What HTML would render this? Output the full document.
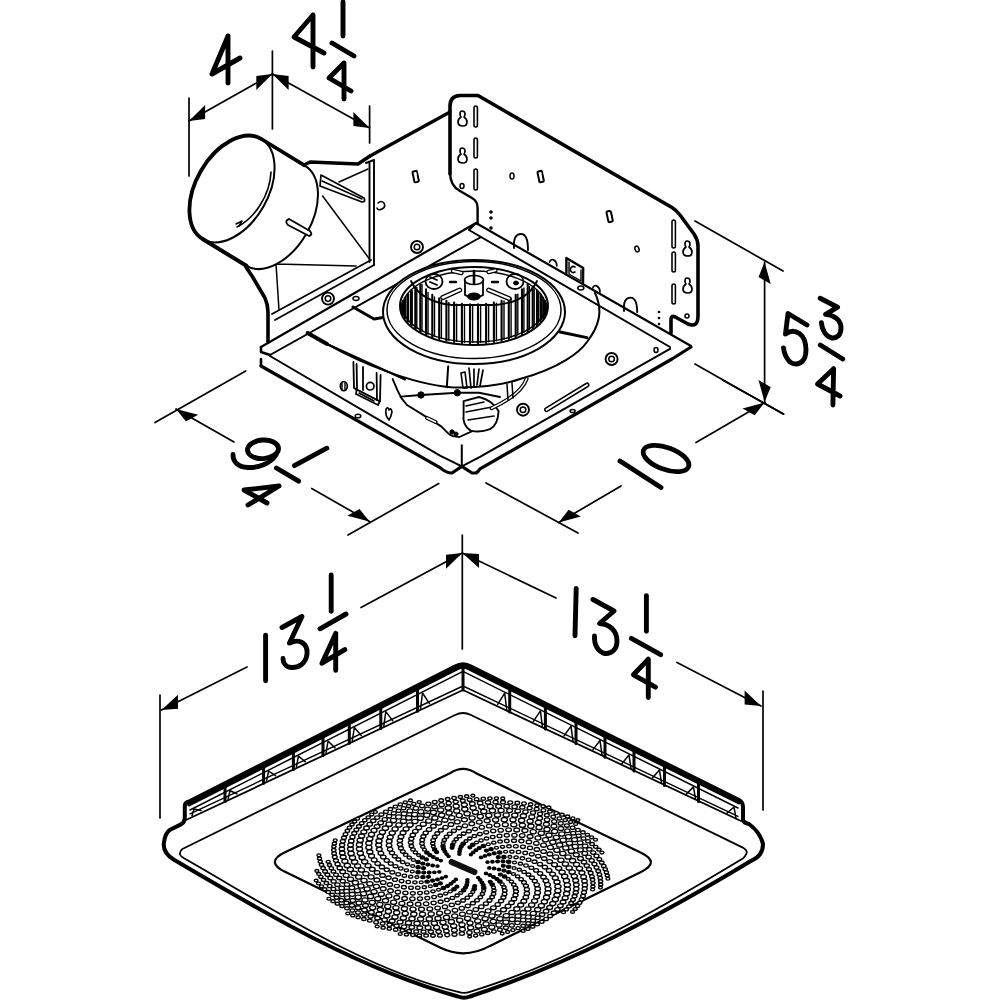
<!DOCTYPE html>
<html><head><meta charset="utf-8"><style>html,body{margin:0;padding:0;background:#fff;overflow:hidden;font-family:"Liberation Sans",sans-serif}svg{display:block}</style></head><body><svg width="1000" height="1001" viewBox="0 0 1000 1001"><g fill="none" stroke="#000" stroke-linecap="round" stroke-linejoin="round"><line x1="189" y1="98" x2="189" y2="176" stroke-width="1.7"/><line x1="272.4" y1="51" x2="272.4" y2="129" stroke-width="1.7"/><line x1="369.6" y1="106" x2="369.6" y2="143" stroke-width="1.7"/><line x1="189" y1="121" x2="272.4" y2="74" stroke-width="1.7"/><path d="M189.0,121.0 L205.1,118.9 L205.1,104.9 Z" fill="#000" stroke="none"/><path d="M272.4,74.0 L256.3,90.1 L256.3,76.1 Z" fill="#000" stroke="none"/><line x1="272.4" y1="74" x2="369.6" y2="128" stroke-width="1.7"/><path d="M369.6,128.0 L353.4,126.0 L353.4,112.0 Z" fill="#000" stroke="none"/><path d="M272.4,74.0 L288.6,90.0 L288.6,76.0 Z" fill="#000" stroke="none"/><line x1="695" y1="221" x2="783" y2="271" stroke-width="1.7"/><line x1="695" y1="364" x2="783" y2="414" stroke-width="1.7"/><line x1="764.6" y1="262" x2="764.6" y2="402" stroke-width="1.7"/><path d="M764.6,262.0 L770.7,284.0 L758.5,277.0 Z" fill="#000" stroke="none"/><path d="M764.6,402.0 L770.7,387.0 L758.5,380.0 Z" fill="#000" stroke="none"/><line x1="155" y1="422.5" x2="245.7" y2="371" stroke-width="1.7"/><line x1="348" y1="535" x2="438.8" y2="483.6" stroke-width="1.7"/><line x1="176" y1="409" x2="234" y2="442" stroke-width="1.7"/><path d="M176.0,409.0 L198.2,414.7 L186.0,421.6 Z" fill="#000" stroke="none"/><line x1="311.7" y1="488.5" x2="369.5" y2="521.5" stroke-width="1.7"/><path d="M369.5,521.5 L359.5,508.9 L347.3,515.8 Z" fill="#000" stroke="none"/><line x1="486" y1="483" x2="578" y2="533" stroke-width="1.7"/><line x1="722.5" y1="380" x2="783.75" y2="414" stroke-width="1.7"/><line x1="558.75" y1="522.5" x2="621" y2="486" stroke-width="1.7"/><path d="M558.8,522.5 L580.8,516.5 L568.6,509.7 Z" fill="#000" stroke="none"/><line x1="696" y1="442.5" x2="765" y2="402.5" stroke-width="1.7"/><path d="M764.6,402.5 L754.7,415.2 L742.5,408.4 Z" fill="#000" stroke="none"/><line x1="160" y1="695" x2="160" y2="818" stroke-width="1.7"/><line x1="462.3" y1="535" x2="462.3" y2="649" stroke-width="1.7"/><line x1="763" y1="691" x2="763" y2="810" stroke-width="1.7"/><line x1="161.5" y1="710" x2="247" y2="667" stroke-width="1.7"/><path d="M161.5,710.0 L178.0,708.7 L178.0,694.7 Z" fill="#000" stroke="none"/><line x1="361" y1="607.6" x2="462.3" y2="553" stroke-width="1.7"/><path d="M462.3,553.0 L446.0,568.8 L446.0,554.8 Z" fill="#000" stroke="none"/><line x1="462.3" y1="553" x2="556" y2="598" stroke-width="1.7"/><path d="M462.3,553.0 L479.0,568.0 L479.0,554.0 Z" fill="#000" stroke="none"/><line x1="677" y1="662.5" x2="761" y2="706" stroke-width="1.7"/><path d="M761.0,706.0 L744.6,704.5 L744.6,690.5 Z" fill="#000" stroke="none"/><path d="M228,36 L212,74 L240,58 M228,36 L228,83" stroke-width="4.9"/><path d="M313,15 L294,37 L324,53 M313,15 L313,67" stroke-width="4.9"/><path d="M343,2 L343,36" stroke-width="4.9"/><path d="M332,43 L354,56" stroke-width="4.9"/><path d="M344,63 L329,78 L351,91 M344,63 L344,99" stroke-width="4.9"/><path d="M807,325 L788,313.5 L785.5,334 C795,327 806,334 806,350 C806,364 796,366 790,362 C786,358 784,352 783.5,348" stroke-width="4.9"/><path d="M820.2,298.2 L837.6,307.2 L825.6,314.4 C834,315 841,320 841,328 C841,335 837,338.5 832,338 C826,337 822,330 821.4,322.8" stroke-width="4.9"/><path d="M820.3,345 L842.7,359" stroke-width="4.9"/><path d="M833.6,368.7 L817.5,384 L840,396 M833.6,368.7 L832.9,405" stroke-width="4.9"/><ellipse cx="263" cy="449.3" rx="15.5" ry="9.3" transform="rotate(-4 263 449.3)" stroke-width="4.9"/><path d="M276,455 C270,464 258,468 248,467.5 C238,467 233,462 233,454.5" stroke-width="4.9"/><path d="M294.4,465.6 L326.8,448.2" stroke-width="4.9"/><path d="M276.4,468 L298.6,481.2" stroke-width="4.9"/><path d="M279,486 L244,490 L267,503 M279,486 L248,505" stroke-width="4.9"/><path d="M620,461 L661,487.5" stroke-width="4.9"/><ellipse cx="666" cy="458.5" rx="24" ry="11" transform="rotate(20 666 458.5)" stroke-width="4.8" fill="none"/><path d="M265.6,635.3 L265.6,680.8" stroke-width="4.9"/><path d="M282,627.5 L302,616.5 L289.5,643 C300,638 308,644 307,654 C306,664 298,668 291,667.5 C286,667 283,663 283,658.5" stroke-width="4.9"/><path d="M331.2,575 L331.2,611.3" stroke-width="4.9"/><path d="M320,628.8 L346,614" stroke-width="4.9"/><path d="M335.7,633.4 L322,663.2 L344.8,649.6 M335.7,633.4 L335.7,670.4" stroke-width="4.9"/><path d="M576.2,588.4 L575,635.8" stroke-width="4.9"/><path d="M593,599.5 L614,611 L599.5,623.5 C610,624 617,631 617,641 C617,650 611,654 605,653.5 C598,652 594,645 594.5,636" stroke-width="4.9"/><path d="M646.4,595.6 L646.4,631.3" stroke-width="4.9"/><path d="M631.4,638.4 L660.6,654.7" stroke-width="4.9"/><path d="M648.3,659.2 L633.4,674.8 L655.5,687.1 M648.3,659.2 L648.3,697.5" stroke-width="4.9"/></g><g fill="none" stroke="#000" stroke-linecap="round" stroke-linejoin="round"><path d="M268,342 L268,307 L370,156 L450,112 L450,97 Q451,95 458,95 L478,95 L672,207 L698,242 L698,318 Q698,326 690,325 L676,317 Q672,314 671,316 L671,333 L691,346 L672,359 L480,469 L472,473 L452,473 L440,467.6 L261,366 L261,347 Z" fill="#fff" stroke="none"/><path d="M370,156 L450,112" stroke-width="3.2"/><path d="M450,174 L450,106 Q450,96 460,95.5 L478,95.5 L672,207.5 Q676,210 680,215 L694,234 Q698,240 698,246 L698,316 Q698,328 688,324 L677,318 Q671,314 671,320 L671,333" stroke-width="3.6"/><path d="M450,172 Q450,186 460,191 L472,198 Q477.6,201 477.6,208 L477.6,224" stroke-width="2.4"/><path d="M462,111 q3,0 3,3 q0,2 -1,3 q3,2 3,5 q0,4 -4,4 q-5,0 -5,-4 q0,-3 3,-5 q-1,-1 -1,-3 q0,-3 2,-3 z" stroke-width="1.7"/><path d="M462,148 q3,0 3,3 q0,2 -1,3 q3,2 3,5 q0,4 -4,4 q-5,0 -5,-4 q0,-3 3,-5 q-1,-1 -1,-3 q0,-3 2,-3 z" stroke-width="1.7"/><rect x="474" y="106" width="3.4" height="21" rx="1.7" stroke-width="1.6"/><rect x="474" y="138" width="3.4" height="20" rx="1.7" stroke-width="1.6"/><rect x="474" y="169" width="3.4" height="21" rx="1.7" stroke-width="1.6"/><ellipse cx="462" cy="186" rx="2" ry="2.5" stroke-width="1.5"/><rect x="413.5" y="171" width="4.5" height="11" rx="1" stroke-width="2" transform="rotate(-12 416 177)"/><path d="M416,173 L416,181" stroke-width="1" stroke="#fff"/><rect x="538.5" y="171" width="4.5" height="11" rx="1" stroke-width="2" transform="rotate(-12 541 177)"/><path d="M541,173 L541,180" stroke-width="0.9" stroke="#fff"/><ellipse cx="512" cy="176" rx="2" ry="3" stroke-width="1.5"/><path d="M378,203 q3,-3 6,0 q2,4 -2,6 q-4,2 -5,-1" stroke-width="1.6"/><circle cx="491" cy="212" r="1.8" fill="#000" stroke="none"/><circle cx="491" cy="218" r="1.8" fill="#000" stroke="none"/><circle cx="491" cy="228" r="1.8" fill="#000" stroke="none"/><rect x="672" y="220" width="3.4" height="28" rx="1.7" stroke-width="1.6"/><rect x="672" y="252" width="3.4" height="20" rx="1.7" stroke-width="1.6"/><rect x="672" y="284" width="3.4" height="20" rx="1.7" stroke-width="1.6"/><path d="M687,241 q3,0 3,3 q0,2 -1,3 q3,2 3,5 q0,4 -4,4 q-5,0 -5,-4 q0,-3 3,-5 q-1,-1 -1,-3 q0,-3 2,-3 z" stroke-width="1.7"/><path d="M687,278 q3,0 3,3 q0,2 -1,3 q3,2 3,5 q0,4 -4,4 q-5,0 -5,-4 q0,-3 3,-5 q-1,-1 -1,-3 q0,-3 2,-3 z" stroke-width="1.7"/><ellipse cx="687" cy="316" rx="2" ry="2" stroke-width="1.5"/><rect x="607.5" y="211" width="4.5" height="11" rx="1.5" stroke-width="2.0" transform="rotate(-12 610 217)"/><ellipse cx="637" cy="249" rx="2" ry="3" stroke-width="1.5" transform="rotate(-20 637 249)"/><circle cx="659" cy="312" r="1.3" fill="#000" stroke="none"/><circle cx="659" cy="318" r="1.3" fill="#000" stroke="none"/><circle cx="659" cy="324" r="1.3" fill="#000" stroke="none"/><path d="M566.4,273 L566.4,258 L583.2,268 L583,283" stroke-width="2.4"/><path d="M569,262 L569,274 L581,281 L581,270" stroke-width="1.4"/><path d="M575,267 A3,3 0 1 0 575,272" stroke-width="1.6"/><path d="M624,311 Q623,297.6 630.5,297.6 Q637,297.6 637.2,312" fill="#fff" stroke-width="1.9"/><path d="M549.6,262 Q551,258.5 554,260 Q557,262 556.8,266" stroke-width="1.7"/><path d="M592.8,288 Q594,284.5 597,286 Q600,288 600,292" stroke-width="1.7"/><ellipse cx="580.8" cy="288" rx="3" ry="2" stroke-width="1.6"/><path d="M514,248 Q513,234 521,234 Q528,234 528,250" fill="#fff" stroke-width="1.9"/></g><g fill="none" stroke="#000" stroke-linecap="round" stroke-linejoin="round"><path d="M308,162 L358,164 L372,158 L374,265 L275,320 L268,342 L268,307 L246,268 L256,268 Z" fill="#fff" stroke="none"/><path d="M303,165.5 L310,162 L358,164 L370,156" stroke-width="3.4"/><path d="M246,267 L252,276 L265,298 Q268,305 268,312 L268,342" stroke-width="3.6"/><path d="M369.5,163 L369.5,262 M374,160 L374,265 M366,163 L374,160" stroke-width="1.9"/><path d="M272,314 L371,260 M275,320 L374,265" stroke-width="1.8"/><path d="M322.6,196 L370.2,260 M276,264 L356,266 M276,264 L279,310 M339,182 L368,169" stroke-width="1.5"/><path d="M321,175 L364,198 Q366,202 362,202 L320,186 Z" fill="#fff" stroke-width="1.7"/><path d="M322,181 L362,199" stroke-width="1.4"/><circle cx="328" cy="298.6" r="6" stroke-width="1.9"/><circle cx="328" cy="298.6" r="2.8" stroke-width="1.5"/><ellipse cx="356" cy="298.6" rx="3" ry="2" stroke-width="1.5"/></g><g fill="none" stroke="#000" stroke-linecap="round" stroke-linejoin="round"><g transform="translate(232,189) rotate(-60)"><ellipse cx="-1.34" cy="50.88" rx="58" ry="36" fill="#fff" stroke="none"/><path d="M58,0 L56.66,50.88 L-59.34,50.88 L-58,0 Z" fill="#fff" stroke="none"/><path d="M56.66,50.88 A58,36 0 0 1 -59.34,50.88" stroke-width="2"/><ellipse cx="0" cy="0" rx="58" ry="36" fill="#fff" stroke="none"/><path d="M58,0 A58,36 0 0 0 -58,0" stroke-width="3.8"/><path d="M-58,0 A58,36 0 0 0 58,0" stroke-width="2"/><path d="M58,0 L56.66,50.88" stroke-width="3.6"/><path d="M-58,0 L-59.34,50.88" stroke-width="4"/></g><path d="M271,172 C270,195 255,218 237,227" stroke-width="1.6"/><path d="M236,224 l6,-3 l-3,5" stroke-width="1.5"/><path d="M289,219 L310,231 Q313,235 309,236 L288,225 Q284,221 289,219 Z" fill="#fff" stroke-width="1.9"/></g><g fill="none" stroke="#000" stroke-linecap="round" stroke-linejoin="round"><path d="M261,347 L476,223 L691,346" stroke-width="2.2"/><path d="M270,355 L481,237 M469,230 L670,347 M469,230 L476,223" stroke-width="2.0"/><path d="M261,347 L261,352 L270,355 M261,359 L261,366" stroke-width="2.6"/><path d="M270,356 L440,455.6 L461.8,466.4 L480,456.8 L670,348.8" stroke-width="2"/><path d="M261,366 L440,467.6 Q446,473 452,473 L461.8,466.4 L472,473 L476,473 Q478,472 480,468.8 L672,359 L691,347" stroke-width="3.2"/><path d="M461.8,445.2 L461.8,466.4" stroke-width="2.0"/><circle cx="417" cy="247" r="6" stroke-width="1.9"/><circle cx="417" cy="247" r="2.8" stroke-width="1.5"/><circle cx="611.6" cy="359" r="6" stroke-width="1.9"/><circle cx="611.6" cy="359" r="2.8" stroke-width="1.5"/><circle cx="523" cy="409.7" r="6" stroke-width="1.9"/><circle cx="523" cy="409.7" r="2.8" stroke-width="1.5"/><path d="M546.6,409.7 L587,385" stroke-width="5" /><path d="M546.6,409.7 L587,385" stroke-width="2" stroke="#fff"/><ellipse cx="656" cy="350" rx="2" ry="2.5" stroke-width="1.5"/><ellipse cx="572.6" cy="411" rx="2.5" ry="1.6" stroke-width="1.5"/><path d="M307.6,333 L327,344" stroke-width="4"/><path d="M327,344 L405,379.5" stroke-width="2.0"/><path d="M353,307 L374,319 L383,317.5" stroke-width="3"/></g><g fill="none" stroke="#000" stroke-linecap="round" stroke-linejoin="round"><path d="M327,344 C360,362 410,384 451,387.2 C475,388 500,386 520,379 C560,368 580,352 587,342 C600,325 603,310 595,293" stroke-width="2"/><path d="M560,332 L587,337.6" stroke-width="3"/><ellipse cx="474" cy="312" rx="91" ry="52" fill="#fff" stroke-width="2"/><ellipse cx="474" cy="310" rx="87" ry="48.5" stroke-width="1.5"/><ellipse cx="474" cy="306" rx="74" ry="39" fill="#fff" stroke-width="2"/><path d="M402.1,303.1 L402.1,312.9" stroke-width="2.1"/><path d="M402.3,303.7 L402.3,312.3" stroke-width="1.4"/><path d="M403.0,300.9 L403.0,315.1" stroke-width="2.1"/><path d="M403.5,301.0 L403.5,315.0" stroke-width="1.4"/><path d="M404.8,297.7 L404.8,318.3" stroke-width="2.1"/><path d="M405.5,297.7 L405.5,318.3" stroke-width="1.4"/><path d="M407.5,294.3 L407.5,321.7" stroke-width="2.1"/><path d="M408.5,294.2 L408.5,321.8" stroke-width="1.4"/><path d="M411.0,290.8 L411.0,325.2" stroke-width="2.1"/><path d="M412.2,290.8 L412.2,325.2" stroke-width="1.4"/><path d="M415.3,287.5 L415.3,328.5" stroke-width="2.1"/><path d="M416.8,287.5 L416.8,328.5" stroke-width="1.4"/><path d="M420.3,284.4 L420.3,331.6" stroke-width="2.1"/><path d="M422.0,284.5 L422.0,331.5" stroke-width="1.4"/><path d="M426.0,289.4 L426.0,334.4" stroke-width="2.1"/><path d="M428.0,292.4 L428.0,334.2" stroke-width="1.4"/><path d="M432.3,294.7 L432.3,336.9" stroke-width="2.1"/><path d="M434.5,296.9 L434.5,336.6" stroke-width="1.4"/><path d="M439.2,298.2 L439.2,339.0" stroke-width="2.1"/><path d="M441.4,300.1 L441.4,338.6" stroke-width="1.4"/><path d="M446.4,300.8 L446.4,340.8" stroke-width="2.1"/><path d="M448.8,302.4 L448.8,340.2" stroke-width="1.4"/><path d="M454.1,302.6 L454.1,342.1" stroke-width="2.1"/><path d="M456.6,304.1 L456.6,341.4" stroke-width="1.4"/><path d="M461.9,303.8 L461.9,343.0" stroke-width="2.1"/><path d="M464.5,305.1 L464.5,342.2" stroke-width="1.4"/><path d="M470.0,304.4 L470.0,343.4" stroke-width="2.1"/><path d="M472.6,305.5 L472.6,342.5" stroke-width="1.4"/><path d="M478.0,304.4 L478.0,343.4" stroke-width="2.1"/><path d="M480.6,305.3 L480.6,342.3" stroke-width="1.4"/><path d="M486.1,303.8 L486.1,343.0" stroke-width="2.1"/><path d="M488.6,304.5 L488.6,341.7" stroke-width="1.4"/><path d="M493.9,302.6 L493.9,342.1" stroke-width="2.1"/><path d="M496.4,303.1 L496.4,340.7" stroke-width="1.4"/><path d="M501.6,300.8 L501.6,340.8" stroke-width="2.1"/><path d="M504.0,301.0 L504.0,339.2" stroke-width="1.4"/><path d="M508.8,298.2 L508.8,339.0" stroke-width="2.1"/><path d="M511.1,298.2 L511.1,337.4" stroke-width="1.4"/><path d="M515.7,294.7 L515.7,336.9" stroke-width="2.1"/><path d="M517.8,294.2 L517.8,335.1" stroke-width="1.4"/><path d="M522.0,289.4 L522.0,334.4" stroke-width="2.1"/><path d="M523.9,287.9 L523.9,332.5" stroke-width="1.4"/><path d="M527.7,284.4 L527.7,331.6" stroke-width="2.1"/><path d="M529.4,286.4 L529.4,329.6" stroke-width="1.4"/><path d="M532.7,287.5 L532.7,328.5" stroke-width="2.1"/><path d="M534.2,289.6 L534.2,326.4" stroke-width="1.4"/><path d="M537.0,290.8 L537.0,325.2" stroke-width="2.1"/><path d="M538.3,293.0 L538.3,323.0" stroke-width="1.4"/><path d="M540.5,294.3 L540.5,321.7" stroke-width="2.1"/><path d="M541.5,296.4 L541.5,319.6" stroke-width="1.4"/><path d="M543.2,297.7 L543.2,318.3" stroke-width="2.1"/><path d="M543.9,299.8 L543.9,316.2" stroke-width="1.4"/><path d="M545.0,300.9 L545.0,315.1" stroke-width="2.1"/><path d="M545.4,302.8 L545.4,313.2" stroke-width="1.4"/><path d="M545.9,303.1 L545.9,312.9" stroke-width="2.1"/><ellipse cx="474" cy="306.5" rx="71" ry="35.5" stroke-width="1.5"/><path d="M411,281 C418,296 432,303 452,305 L496,305 C516,303 530,296 537,281" stroke-width="1.8"/><ellipse cx="434" cy="281.5" rx="8.5" ry="7.5" stroke-width="1.8"/><ellipse cx="515" cy="281.5" rx="8.5" ry="7.5" stroke-width="1.8"/><path d="M430,277 l7,3 M430,282 l7,3" stroke-width="1.9"/><ellipse cx="516" cy="283" rx="2.5" ry="2" fill="#000"/><path d="M465,281 L465,295 Q474,301 483,295 L483,281" fill="#fff" stroke-width="1.8"/><ellipse cx="474" cy="280" rx="9.5" ry="4.5" stroke-width="1.7"/><ellipse cx="474" cy="296.5" rx="6.5" ry="3.5" fill="#000"/><path d="M474,271 L474,283" stroke-width="2.6"/><path d="M456,282 L450,282 M492,282 L498,282" stroke-width="2.4"/><path d="M442.7,297.6 L459.7,290 M488.6,290 L509,298.5" stroke-width="5"/><path d="M442.7,297.6 L459.7,290 M488.6,290 L509,298.5" stroke-width="2.4" stroke="#fff"/><path d="M453,271 L461.4,273 M488.6,272 L495.4,270.4" stroke-width="4.5"/><path d="M453,271 L461.4,273 M488.6,272 L495.4,270.4" stroke-width="2" stroke="#fff"/></g><g fill="none" stroke="#000" stroke-linecap="round" stroke-linejoin="round"><path d="M392.6,379 L397.4,390.2 L401.4,398.2 L407,405 L425.8,416.6 L441.2,426.4 L448.2,433.4 Q452,437 459.4,437 L473.4,430.6" stroke-width="1.9"/><path d="M400.6,396.6 L421,395 L457.3,392.8 L479,392.8 L500,397" stroke-width="1.9"/><circle cx="421" cy="395" r="3.2" fill="#000"/><circle cx="457.3" cy="392.8" r="3.2" fill="#000"/><path d="M427,418 L435.6,422" stroke-width="4"/><path d="M427,418 L435.6,422" stroke-width="1.5" stroke="#fff"/><circle cx="452" cy="432" r="2.2" fill="#000"/><circle cx="456" cy="434" r="2" fill="#000"/><path d="M463.6,401.2 L479,397 Q492,400 498.6,411 Q498,425 490,429.2 Q480,433 470.6,430.6 Q462,425 463.6,413.8 Z" fill="#fff" stroke-width="1.9"/><path d="M466,406 L484,402 M466,412 L492,407 M468,420 L494,416" stroke-width="1.6"/><path d="M491.6,408.2 C505,402 522,392 526.6,378.8" stroke-width="4"/><path d="M491.6,408.2 C505,402 522,392 526.6,378.8" stroke-width="1.5" stroke="#fff"/><path d="M448.2,366.2 L446.8,387.2" stroke-width="2.0"/><path d="M461,373 L463,388 L467,388 L465,372 Z" stroke-width="1.6"/><path d="M469,368 L471,388 M474,369 L474,387 M479,369 L477,385 M483,370 L480,386" stroke-width="1.7"/><path d="M507,384 L508,400 M512,383 L513,398" stroke-width="1.5"/><path d="M353.4,362 L354,388 L356.6,389.4 M356.6,364 L357,389 M363,367 L363,390 M376.6,373 L377,400 M380.6,375 L380,401" stroke-width="1.8"/><path d="M356.6,389.4 L379.8,401.4 L378,405 L356,394 Z" stroke-width="1.8"/><path d="M359,393 L374,401" stroke-width="1.5"/><circle cx="370.2" cy="386.2" r="3.8" stroke-width="1.7"/><ellipse cx="343.8" cy="386.2" rx="3.5" ry="4.5" stroke-width="1.7"/><path d="M342,383 L342,390 M345,383 L345,390" stroke-width="1.4"/><path d="M386,409 q2,-3 3,1 q2,-3 3,2 q-1,5 -3,8 q-4,-4 -3,-11" stroke-width="1.6"/><ellipse cx="358" cy="416" rx="2.8" ry="1.8" stroke-width="1.5"/></g><g fill="none" stroke="#000" stroke-linecap="round" stroke-linejoin="round"><path d="M455,666.5 Q463,662 471,666.5 L739,800 Q743,802 743,807 L743,820 Q744,823 749,824 Q760,832 763,844 Q763,856 751.2,860.8 C662,914.8 569.5,964 470,996.5 Q464,999 458,996.5 C357.9,968.8 262.8,912 174,859.8 Q163,853 163.8,843.6 Q165,833 170,829.8 L181,824.4 Q184.8,822 184.8,818 L184.8,806 Q185,802 189,801.5 Z" fill="#fff" stroke-width="4"/><path d="M182.4,849 L455,715 Q463,711 471,715 L742.8,847.6 Q748,851 746.4,853.6 Q745,857 742.8,858.4 C656.7,910.5 566.9,962.6 470,991.8 Q464,994 458,991.8 C366.3,970.8 265.3,904.5 183.6,858 Q179,855 180,853.2 Q180.5,850 182.4,849 Z" stroke-width="1.8"/><path d="M189,804.8 L458,668.3 Q463,666 468,668.3 L739,802.8" stroke-width="3.4"/><path d="M186,820 L463,690 L741,821" stroke-width="1.8"/><path d="M190,810.0 L463,671.4 L738,808.0" stroke-width="1.5"/><path d="M190,813.8 L463,686.0 L738,816.4" stroke-width="1.4"/><path d="M417.5,689.5 L417.5,711.3" stroke-width="3"/><path d="M380.8,708.2 L380.8,728.5" stroke-width="3"/><path d="M349.3,724.1 L349.3,743.2" stroke-width="3"/><path d="M323.0,737.5 L323.0,755.5" stroke-width="3"/><path d="M293.4,752.5 L293.4,769.4" stroke-width="3"/><path d="M263.6,767.6 L263.6,783.3" stroke-width="3"/><path d="M225.0,787.2 L225.0,801.4" stroke-width="3"/><path d="M463.0,666.4 L463.0,690.0" stroke-width="3"/><path d="M509.7,689.7 L509.7,712.1" stroke-width="3"/><path d="M545.4,707.4 L545.4,729.1" stroke-width="3"/><path d="M576.0,722.6 L576.0,743.6" stroke-width="3"/><path d="M605.0,737.0 L605.0,757.3" stroke-width="3"/><path d="M634.0,751.4 L634.0,771.1" stroke-width="3"/><path d="M664.5,766.5 L664.5,785.5" stroke-width="3"/><path d="M698.5,783.4 L698.5,801.6" stroke-width="3"/><path d="M420.5,708.9 L422.5,693.0 L429.5,703.7" stroke-width="1.5"/><path d="M383.8,726.1 L385.8,711.6 L392.8,720.9" stroke-width="1.5"/><path d="M352.3,740.8 L354.3,727.6 L361.3,735.6" stroke-width="1.5"/><path d="M326.0,753.1 L328.0,741.0 L335.0,747.9" stroke-width="1.5"/><path d="M296.4,767.0 L298.4,756.0 L305.4,761.8" stroke-width="1.5"/><path d="M266.6,780.9 L268.6,771.1 L275.6,775.7" stroke-width="1.5"/><path d="M228.0,799.0 L230.0,790.7 L237.0,793.8" stroke-width="1.5"/><path d="M192.0,815.8 L194.0,809.0 L201.0,810.6" stroke-width="1.5"/><path d="M506.7,709.7 L504.7,693.2 L497.7,704.4" stroke-width="1.5"/><path d="M542.4,726.6 L540.4,710.9 L533.4,721.4" stroke-width="1.5"/><path d="M573.0,741.1 L571.0,726.1 L564.0,735.9" stroke-width="1.5"/><path d="M602.0,754.9 L600.0,740.5 L593.0,749.6" stroke-width="1.5"/><path d="M631.0,768.6 L629.0,754.9 L622.0,763.4" stroke-width="1.5"/><path d="M661.5,783.1 L659.5,770.1 L652.5,777.8" stroke-width="1.5"/><path d="M695.5,799.2 L693.5,786.9 L686.5,793.9" stroke-width="1.5"/><path d="M736.0,818.4 L734.0,807.0 L727.0,813.1" stroke-width="1.5"/><path d="M285,852.2 L450,773.3 Q463,764.5 476,773.2 L641,852.7 Q660.8,862.2 641,871.9 L490,945.9 Q465,959.8 440,947.6 L285,871.8 Q264.7,861.8 285,852.2 Z" stroke-width="2.2"/></g><g fill="#fff" stroke="#000" stroke-width="1.35"><ellipse cx="489.3" cy="867.9" rx="1.59" ry="1.16" fill="#000"/><ellipse cx="494.1" cy="868.5" rx="1.71" ry="1.25" fill="#000"/><ellipse cx="499.0" cy="869.4" rx="1.84" ry="1.35" fill="#000"/><ellipse cx="504.0" cy="870.5" rx="1.98" ry="1.45" fill="#000"/><ellipse cx="508.8" cy="872.1" rx="2.12" ry="1.55" fill="#000"/><ellipse cx="513.4" cy="874.0" rx="2.00" ry="1.39"/><ellipse cx="517.6" cy="876.4" rx="2.12" ry="1.48"/><ellipse cx="521.1" cy="879.2" rx="2.25" ry="1.56"/><ellipse cx="524.0" cy="882.4" rx="2.37" ry="1.65"/><ellipse cx="525.9" cy="885.8" rx="2.48" ry="1.73"/><ellipse cx="526.9" cy="889.5" rx="2.60" ry="1.81"/><ellipse cx="526.9" cy="893.4" rx="2.70" ry="1.88"/><ellipse cx="525.8" cy="897.3" rx="2.81" ry="1.95"/><ellipse cx="523.8" cy="901.2" rx="2.90" ry="2.02"/><ellipse cx="520.7" cy="905.1" rx="3.00" ry="2.09"/><ellipse cx="516.8" cy="908.9" rx="3.09" ry="2.15"/><ellipse cx="511.9" cy="912.5" rx="3.10" ry="2.16"/><ellipse cx="506.3" cy="915.8" rx="3.10" ry="2.16"/><ellipse cx="500.0" cy="918.8" rx="3.10" ry="2.16"/><ellipse cx="493.3" cy="921.6" rx="3.10" ry="2.16"/><ellipse cx="486.1" cy="924.0" rx="3.10" ry="2.16"/><ellipse cx="478.5" cy="926.1" rx="3.10" ry="2.16"/><ellipse cx="470.6" cy="927.8" rx="3.08" ry="2.14"/><ellipse cx="462.4" cy="929.3" rx="2.97" ry="2.06"/><ellipse cx="454.4" cy="930.3" rx="2.86" ry="1.99"/><ellipse cx="446.4" cy="931.1" rx="2.76" ry="1.92"/><ellipse cx="438.6" cy="931.6" rx="2.67" ry="1.85"/><ellipse cx="430.9" cy="931.8" rx="2.58" ry="1.79"/><ellipse cx="423.5" cy="931.8" rx="2.49" ry="1.73"/><ellipse cx="416.2" cy="931.5" rx="2.41" ry="1.68"/><ellipse cx="409.1" cy="931.1" rx="2.34" ry="1.62"/><ellipse cx="402.3" cy="930.4" rx="2.26" ry="1.57"/><ellipse cx="395.7" cy="929.7" rx="2.19" ry="1.53"/><ellipse cx="389.3" cy="928.7" rx="2.13" ry="1.48"/><ellipse cx="383.1" cy="927.7" rx="2.06" ry="1.43"/><ellipse cx="377.2" cy="926.5" rx="2.00" ry="1.39"/><ellipse cx="500.4" cy="874.6" rx="1.95" ry="1.42" fill="#000"/><ellipse cx="504.5" cy="876.5" rx="2.09" ry="1.53" fill="#000"/><ellipse cx="508.2" cy="878.9" rx="1.97" ry="1.37"/><ellipse cx="511.4" cy="881.6" rx="2.10" ry="1.46"/><ellipse cx="513.8" cy="884.6" rx="2.22" ry="1.54"/><ellipse cx="515.4" cy="887.9" rx="2.34" ry="1.63"/><ellipse cx="516.0" cy="891.5" rx="2.46" ry="1.71"/><ellipse cx="515.5" cy="895.2" rx="2.57" ry="1.79"/><ellipse cx="514.0" cy="898.9" rx="2.68" ry="1.86"/><ellipse cx="511.5" cy="902.7" rx="2.78" ry="1.94"/><ellipse cx="508.0" cy="906.3" rx="2.88" ry="2.01"/><ellipse cx="503.5" cy="909.8" rx="2.98" ry="2.07"/><ellipse cx="498.1" cy="913.0" rx="3.07" ry="2.13"/><ellipse cx="491.9" cy="916.1" rx="3.10" ry="2.16"/><ellipse cx="485.1" cy="918.8" rx="3.10" ry="2.16"/><ellipse cx="477.7" cy="921.1" rx="3.10" ry="2.16"/><ellipse cx="470.0" cy="923.1" rx="3.10" ry="2.16"/><ellipse cx="462.0" cy="924.8" rx="3.10" ry="2.16"/><ellipse cx="453.7" cy="926.0" rx="3.10" ry="2.16"/><ellipse cx="445.2" cy="926.9" rx="3.10" ry="2.16"/><ellipse cx="436.6" cy="927.5" rx="3.05" ry="2.12"/><ellipse cx="428.1" cy="927.7" rx="2.94" ry="2.05"/><ellipse cx="419.8" cy="927.7" rx="2.84" ry="1.98"/><ellipse cx="411.8" cy="927.3" rx="2.75" ry="1.91"/><ellipse cx="404.1" cy="926.7" rx="2.65" ry="1.85"/><ellipse cx="396.6" cy="925.8" rx="2.57" ry="1.79"/><ellipse cx="389.5" cy="924.8" rx="2.49" ry="1.73"/><ellipse cx="382.6" cy="923.5" rx="2.41" ry="1.68"/><ellipse cx="376.1" cy="922.2" rx="2.34" ry="1.63"/><ellipse cx="369.8" cy="920.6" rx="2.27" ry="1.58"/><ellipse cx="363.9" cy="919.0" rx="2.20" ry="1.53"/><ellipse cx="358.2" cy="917.2" rx="2.13" ry="1.48"/><ellipse cx="352.8" cy="915.4" rx="2.07" ry="1.44"/><ellipse cx="347.8" cy="913.5" rx="2.01" ry="1.40"/><ellipse cx="486.0" cy="873.4" rx="1.59" ry="1.16" fill="#000"/><ellipse cx="489.8" cy="875.0" rx="1.71" ry="1.25" fill="#000"/><ellipse cx="493.5" cy="876.9" rx="1.84" ry="1.35" fill="#000"/><ellipse cx="496.9" cy="879.0" rx="1.98" ry="1.45" fill="#000"/><ellipse cx="499.9" cy="881.4" rx="2.12" ry="1.55" fill="#000"/><ellipse cx="502.3" cy="884.2" rx="2.00" ry="1.39"/><ellipse cx="504.0" cy="887.2" rx="2.12" ry="1.48"/><ellipse cx="504.8" cy="890.5" rx="2.25" ry="1.56"/><ellipse cx="504.6" cy="894.0" rx="2.37" ry="1.65"/><ellipse cx="503.4" cy="897.5" rx="2.48" ry="1.73"/><ellipse cx="501.1" cy="901.1" rx="2.60" ry="1.81"/><ellipse cx="497.7" cy="904.5" rx="2.70" ry="1.88"/><ellipse cx="493.4" cy="907.8" rx="2.81" ry="1.95"/><ellipse cx="488.1" cy="910.9" rx="2.90" ry="2.02"/><ellipse cx="482.0" cy="913.8" rx="3.00" ry="2.09"/><ellipse cx="475.1" cy="916.3" rx="3.09" ry="2.15"/><ellipse cx="467.6" cy="918.5" rx="3.10" ry="2.16"/><ellipse cx="459.7" cy="920.3" rx="3.10" ry="2.16"/><ellipse cx="451.4" cy="921.7" rx="3.10" ry="2.16"/><ellipse cx="443.0" cy="922.6" rx="3.10" ry="2.16"/><ellipse cx="434.4" cy="923.3" rx="3.10" ry="2.16"/><ellipse cx="425.7" cy="923.5" rx="3.10" ry="2.16"/><ellipse cx="417.1" cy="923.4" rx="3.10" ry="2.16"/><ellipse cx="408.5" cy="922.9" rx="3.04" ry="2.11"/><ellipse cx="400.1" cy="922.1" rx="2.93" ry="2.04"/><ellipse cx="392.2" cy="921.0" rx="2.83" ry="1.97"/><ellipse cx="384.6" cy="919.7" rx="2.74" ry="1.90"/><ellipse cx="377.4" cy="918.2" rx="2.65" ry="1.84"/><ellipse cx="370.5" cy="916.5" rx="2.56" ry="1.78"/><ellipse cx="364.1" cy="914.6" rx="2.48" ry="1.73"/><ellipse cx="358.0" cy="912.6" rx="2.40" ry="1.67"/><ellipse cx="352.3" cy="910.5" rx="2.33" ry="1.62"/><ellipse cx="347.0" cy="908.3" rx="2.26" ry="1.57"/><ellipse cx="342.0" cy="906.0" rx="2.19" ry="1.53"/><ellipse cx="337.3" cy="903.7" rx="2.13" ry="1.48"/><ellipse cx="333.0" cy="901.2" rx="2.07" ry="1.44"/><ellipse cx="328.9" cy="898.8" rx="2.01" ry="1.40"/><ellipse cx="490.2" cy="881.8" rx="1.95" ry="1.42" fill="#000"/><ellipse cx="492.2" cy="884.5" rx="2.09" ry="1.53" fill="#000"/><ellipse cx="493.5" cy="887.4" rx="1.97" ry="1.37"/><ellipse cx="494.0" cy="890.5" rx="2.10" ry="1.46"/><ellipse cx="493.6" cy="893.8" rx="2.22" ry="1.54"/><ellipse cx="492.1" cy="897.1" rx="2.34" ry="1.63"/><ellipse cx="489.5" cy="900.5" rx="2.46" ry="1.71"/><ellipse cx="485.9" cy="903.7" rx="2.57" ry="1.79"/><ellipse cx="481.3" cy="906.7" rx="2.68" ry="1.86"/><ellipse cx="475.8" cy="909.6" rx="2.78" ry="1.94"/><ellipse cx="469.5" cy="912.1" rx="2.88" ry="2.01"/><ellipse cx="462.4" cy="914.2" rx="2.98" ry="2.07"/><ellipse cx="454.7" cy="916.0" rx="3.07" ry="2.13"/><ellipse cx="446.5" cy="917.4" rx="3.10" ry="2.16"/><ellipse cx="438.0" cy="918.4" rx="3.10" ry="2.16"/><ellipse cx="429.3" cy="918.9" rx="3.10" ry="2.16"/><ellipse cx="420.6" cy="919.0" rx="3.10" ry="2.16"/><ellipse cx="412.0" cy="918.7" rx="3.10" ry="2.16"/><ellipse cx="403.4" cy="918.1" rx="3.10" ry="2.16"/><ellipse cx="395.0" cy="917.1" rx="3.10" ry="2.16"/><ellipse cx="386.8" cy="915.7" rx="3.08" ry="2.14"/><ellipse cx="378.9" cy="914.1" rx="2.97" ry="2.06"/><ellipse cx="371.4" cy="912.2" rx="2.87" ry="1.99"/><ellipse cx="364.5" cy="910.1" rx="2.77" ry="1.93"/><ellipse cx="358.0" cy="907.8" rx="2.68" ry="1.86"/><ellipse cx="352.0" cy="905.4" rx="2.59" ry="1.80"/><ellipse cx="346.4" cy="902.9" rx="2.51" ry="1.75"/><ellipse cx="341.3" cy="900.3" rx="2.43" ry="1.69"/><ellipse cx="336.6" cy="897.6" rx="2.36" ry="1.64"/><ellipse cx="332.2" cy="894.8" rx="2.29" ry="1.59"/><ellipse cx="328.3" cy="892.0" rx="2.22" ry="1.55"/><ellipse cx="324.7" cy="889.2" rx="2.16" ry="1.50"/><ellipse cx="321.5" cy="886.3" rx="2.09" ry="1.46"/><ellipse cx="318.6" cy="883.5" rx="2.03" ry="1.41"/><ellipse cx="316.1" cy="880.6" rx="1.98" ry="1.37"/><ellipse cx="478.2" cy="877.7" rx="1.59" ry="1.16" fill="#000"/><ellipse cx="480.2" cy="879.9" rx="1.71" ry="1.25" fill="#000"/><ellipse cx="481.9" cy="882.4" rx="1.84" ry="1.35" fill="#000"/><ellipse cx="483.2" cy="885.1" rx="1.98" ry="1.45" fill="#000"/><ellipse cx="483.8" cy="887.9" rx="2.12" ry="1.55" fill="#000"/><ellipse cx="483.6" cy="890.9" rx="2.00" ry="1.39"/><ellipse cx="482.4" cy="894.0" rx="2.12" ry="1.48"/><ellipse cx="480.3" cy="897.2" rx="2.25" ry="1.56"/><ellipse cx="477.1" cy="900.3" rx="2.37" ry="1.65"/><ellipse cx="472.9" cy="903.2" rx="2.48" ry="1.73"/><ellipse cx="467.8" cy="905.9" rx="2.60" ry="1.81"/><ellipse cx="461.8" cy="908.2" rx="2.70" ry="1.88"/><ellipse cx="455.0" cy="910.3" rx="2.81" ry="1.95"/><ellipse cx="447.5" cy="911.9" rx="2.90" ry="2.02"/><ellipse cx="439.6" cy="913.2" rx="3.00" ry="2.09"/><ellipse cx="431.2" cy="914.0" rx="3.09" ry="2.15"/><ellipse cx="422.5" cy="914.3" rx="3.10" ry="2.16"/><ellipse cx="413.8" cy="914.2" rx="3.10" ry="2.16"/><ellipse cx="405.2" cy="913.6" rx="3.10" ry="2.16"/><ellipse cx="396.7" cy="912.7" rx="3.10" ry="2.16"/><ellipse cx="388.4" cy="911.4" rx="3.10" ry="2.16"/><ellipse cx="380.4" cy="909.7" rx="3.10" ry="2.16"/><ellipse cx="372.7" cy="907.7" rx="3.05" ry="2.12"/><ellipse cx="365.5" cy="905.5" rx="2.93" ry="2.04"/><ellipse cx="358.9" cy="903.0" rx="2.83" ry="1.97"/><ellipse cx="352.8" cy="900.4" rx="2.73" ry="1.90"/><ellipse cx="347.2" cy="897.7" rx="2.63" ry="1.83"/><ellipse cx="342.1" cy="894.8" rx="2.54" ry="1.77"/><ellipse cx="337.5" cy="891.9" rx="2.46" ry="1.71"/><ellipse cx="333.4" cy="889.0" rx="2.38" ry="1.66"/><ellipse cx="329.7" cy="886.0" rx="2.30" ry="1.60"/><ellipse cx="326.4" cy="883.0" rx="2.23" ry="1.55"/><ellipse cx="323.5" cy="879.9" rx="2.16" ry="1.50"/><ellipse cx="320.9" cy="876.9" rx="2.09" ry="1.46"/><ellipse cx="318.8" cy="873.9" rx="2.03" ry="1.41"/><ellipse cx="316.9" cy="870.9" rx="1.97" ry="1.37"/><ellipse cx="474.7" cy="886.2" rx="1.95" ry="1.42" fill="#000"/><ellipse cx="474.2" cy="889.0" rx="2.09" ry="1.53" fill="#000"/><ellipse cx="472.8" cy="891.9" rx="1.97" ry="1.37"/><ellipse cx="470.6" cy="894.8" rx="2.10" ry="1.46"/><ellipse cx="467.3" cy="897.7" rx="2.22" ry="1.54"/><ellipse cx="463.1" cy="900.4" rx="2.34" ry="1.63"/><ellipse cx="457.9" cy="902.8" rx="2.46" ry="1.71"/><ellipse cx="451.8" cy="904.9" rx="2.57" ry="1.79"/><ellipse cx="445.0" cy="906.7" rx="2.68" ry="1.86"/><ellipse cx="437.6" cy="908.0" rx="2.78" ry="1.94"/><ellipse cx="429.8" cy="908.9" rx="2.88" ry="2.01"/><ellipse cx="421.5" cy="909.3" rx="2.98" ry="2.07"/><ellipse cx="413.0" cy="909.3" rx="3.07" ry="2.13"/><ellipse cx="404.4" cy="908.7" rx="3.10" ry="2.16"/><ellipse cx="395.9" cy="907.8" rx="3.10" ry="2.16"/><ellipse cx="387.7" cy="906.4" rx="3.10" ry="2.16"/><ellipse cx="379.8" cy="904.6" rx="3.10" ry="2.16"/><ellipse cx="372.2" cy="902.5" rx="3.10" ry="2.16"/><ellipse cx="365.0" cy="900.0" rx="3.10" ry="2.16"/><ellipse cx="358.3" cy="897.3" rx="3.07" ry="2.14"/><ellipse cx="352.2" cy="894.3" rx="2.95" ry="2.06"/><ellipse cx="346.6" cy="891.2" rx="2.85" ry="1.98"/><ellipse cx="341.7" cy="888.0" rx="2.74" ry="1.91"/><ellipse cx="337.4" cy="884.7" rx="2.65" ry="1.84"/><ellipse cx="333.6" cy="881.4" rx="2.56" ry="1.78"/><ellipse cx="330.3" cy="878.1" rx="2.47" ry="1.72"/><ellipse cx="327.4" cy="874.7" rx="2.39" ry="1.66"/><ellipse cx="325.1" cy="871.4" rx="2.32" ry="1.61"/><ellipse cx="323.1" cy="868.1" rx="2.24" ry="1.56"/><ellipse cx="321.5" cy="864.8" rx="2.17" ry="1.51"/><ellipse cx="320.3" cy="861.6" rx="2.10" ry="1.46"/><ellipse cx="319.5" cy="858.4" rx="2.04" ry="1.42"/><ellipse cx="318.9" cy="855.2" rx="1.98" ry="1.38"/><ellipse cx="467.4" cy="879.8" rx="1.59" ry="1.16" fill="#000"/><ellipse cx="467.3" cy="882.3" rx="1.71" ry="1.25" fill="#000"/><ellipse cx="466.7" cy="884.9" rx="1.84" ry="1.35" fill="#000"/><ellipse cx="465.5" cy="887.6" rx="1.98" ry="1.45" fill="#000"/><ellipse cx="463.6" cy="890.3" rx="2.12" ry="1.55" fill="#000"/><ellipse cx="460.8" cy="892.9" rx="2.00" ry="1.39"/><ellipse cx="457.1" cy="895.5" rx="2.12" ry="1.48"/><ellipse cx="452.4" cy="897.9" rx="2.25" ry="1.56"/><ellipse cx="446.9" cy="899.9" rx="2.37" ry="1.65"/><ellipse cx="440.6" cy="901.7" rx="2.48" ry="1.73"/><ellipse cx="433.6" cy="903.0" rx="2.60" ry="1.81"/><ellipse cx="426.1" cy="903.8" rx="2.70" ry="1.88"/><ellipse cx="418.2" cy="904.2" rx="2.81" ry="1.95"/><ellipse cx="410.1" cy="904.0" rx="2.90" ry="2.02"/><ellipse cx="401.9" cy="903.4" rx="3.00" ry="2.09"/><ellipse cx="393.6" cy="902.3" rx="3.09" ry="2.15"/><ellipse cx="385.5" cy="900.7" rx="3.10" ry="2.16"/><ellipse cx="377.8" cy="898.8" rx="3.10" ry="2.16"/><ellipse cx="370.5" cy="896.4" rx="3.10" ry="2.16"/><ellipse cx="363.6" cy="893.7" rx="3.07" ry="2.14"/><ellipse cx="357.4" cy="890.7" rx="2.93" ry="2.04"/><ellipse cx="351.9" cy="887.7" rx="2.80" ry="1.95"/><ellipse cx="347.0" cy="884.5" rx="2.68" ry="1.87"/><ellipse cx="342.8" cy="881.2" rx="2.57" ry="1.79"/><ellipse cx="339.2" cy="878.0" rx="2.47" ry="1.72"/><ellipse cx="336.0" cy="874.7" rx="2.37" ry="1.65"/><ellipse cx="333.4" cy="871.4" rx="2.28" ry="1.58"/><ellipse cx="331.3" cy="868.2" rx="2.19" ry="1.52"/><ellipse cx="329.5" cy="865.0" rx="2.11" ry="1.47"/><ellipse cx="328.2" cy="861.8" rx="2.03" ry="1.41"/><ellipse cx="456.9" cy="886.7" rx="1.95" ry="1.42" fill="#000"/><ellipse cx="454.0" cy="889.2" rx="2.09" ry="1.53" fill="#000"/><ellipse cx="450.3" cy="891.5" rx="1.97" ry="1.37"/><ellipse cx="445.7" cy="893.6" rx="2.10" ry="1.46"/><ellipse cx="440.3" cy="895.5" rx="2.22" ry="1.54"/><ellipse cx="434.1" cy="897.0" rx="2.34" ry="1.63"/><ellipse cx="427.3" cy="898.1" rx="2.46" ry="1.71"/><ellipse cx="420.0" cy="898.7" rx="2.57" ry="1.79"/><ellipse cx="412.4" cy="898.8" rx="2.68" ry="1.86"/><ellipse cx="404.6" cy="898.4" rx="2.78" ry="1.94"/><ellipse cx="396.7" cy="897.5" rx="2.88" ry="2.01"/><ellipse cx="388.9" cy="896.0" rx="2.98" ry="2.07"/><ellipse cx="381.3" cy="894.2" rx="3.07" ry="2.13"/><ellipse cx="374.0" cy="891.8" rx="3.10" ry="2.16"/><ellipse cx="367.2" cy="889.1" rx="3.10" ry="2.16"/><ellipse cx="361.0" cy="886.0" rx="3.10" ry="2.16"/><ellipse cx="355.4" cy="882.7" rx="3.10" ry="2.16"/><ellipse cx="350.5" cy="879.2" rx="3.07" ry="2.13"/><ellipse cx="346.2" cy="875.4" rx="2.93" ry="2.04"/><ellipse cx="342.7" cy="871.7" rx="2.81" ry="1.95"/><ellipse cx="339.8" cy="867.9" rx="2.70" ry="1.88"/><ellipse cx="337.6" cy="864.2" rx="2.59" ry="1.80"/><ellipse cx="335.9" cy="860.6" rx="2.49" ry="1.73"/><ellipse cx="334.8" cy="857.0" rx="2.40" ry="1.67"/><ellipse cx="334.1" cy="853.4" rx="2.31" ry="1.60"/><ellipse cx="333.8" cy="850.0" rx="2.22" ry="1.55"/><ellipse cx="333.9" cy="846.6" rx="2.14" ry="1.49"/><ellipse cx="334.4" cy="843.4" rx="2.07" ry="1.44"/><ellipse cx="335.2" cy="840.2" rx="1.99" ry="1.39"/><ellipse cx="455.9" cy="879.4" rx="1.59" ry="1.16" fill="#000"/><ellipse cx="453.6" cy="881.6" rx="1.71" ry="1.25" fill="#000"/><ellipse cx="450.9" cy="883.8" rx="1.84" ry="1.35" fill="#000"/><ellipse cx="447.5" cy="886.0" rx="1.98" ry="1.45" fill="#000"/><ellipse cx="443.4" cy="888.0" rx="2.12" ry="1.55" fill="#000"/><ellipse cx="438.5" cy="889.8" rx="2.00" ry="1.39"/><ellipse cx="433.0" cy="891.3" rx="2.12" ry="1.48"/><ellipse cx="426.7" cy="892.4" rx="2.25" ry="1.56"/><ellipse cx="420.0" cy="893.1" rx="2.37" ry="1.65"/><ellipse cx="412.8" cy="893.3" rx="2.48" ry="1.73"/><ellipse cx="405.4" cy="892.9" rx="2.60" ry="1.81"/><ellipse cx="397.9" cy="892.1" rx="2.70" ry="1.88"/><ellipse cx="390.5" cy="890.7" rx="2.81" ry="1.95"/><ellipse cx="383.2" cy="888.8" rx="2.90" ry="2.02"/><ellipse cx="376.4" cy="886.5" rx="3.00" ry="2.09"/><ellipse cx="369.9" cy="883.7" rx="3.09" ry="2.15"/><ellipse cx="364.0" cy="880.5" rx="3.10" ry="2.16"/><ellipse cx="358.7" cy="877.0" rx="3.10" ry="2.16"/><ellipse cx="354.2" cy="873.3" rx="3.10" ry="2.16"/><ellipse cx="350.3" cy="869.4" rx="3.10" ry="2.16"/><ellipse cx="347.3" cy="865.4" rx="3.10" ry="2.16"/><ellipse cx="344.9" cy="861.2" rx="3.04" ry="2.12"/><ellipse cx="343.2" cy="857.0" rx="2.92" ry="2.03"/><ellipse cx="342.3" cy="852.9" rx="2.81" ry="1.95"/><ellipse cx="341.9" cy="848.9" rx="2.70" ry="1.88"/><ellipse cx="342.1" cy="845.1" rx="2.60" ry="1.81"/><ellipse cx="342.8" cy="841.3" rx="2.51" ry="1.75"/><ellipse cx="344.0" cy="837.7" rx="2.42" ry="1.68"/><ellipse cx="345.5" cy="834.2" rx="2.34" ry="1.63"/><ellipse cx="347.4" cy="830.8" rx="2.26" ry="1.57"/><ellipse cx="349.5" cy="827.6" rx="2.18" ry="1.52"/><ellipse cx="352.0" cy="824.5" rx="2.11" ry="1.47"/><ellipse cx="354.7" cy="821.6" rx="2.04" ry="1.42"/><ellipse cx="357.6" cy="818.8" rx="1.97" ry="1.37"/><ellipse cx="440.4" cy="883.4" rx="1.95" ry="1.42" fill="#000"/><ellipse cx="435.7" cy="884.9" rx="2.09" ry="1.53" fill="#000"/><ellipse cx="430.3" cy="886.2" rx="1.97" ry="1.37"/><ellipse cx="424.3" cy="887.2" rx="2.10" ry="1.46"/><ellipse cx="417.8" cy="887.7" rx="2.22" ry="1.54"/><ellipse cx="411.0" cy="887.7" rx="2.34" ry="1.63"/><ellipse cx="403.9" cy="887.2" rx="2.46" ry="1.71"/><ellipse cx="396.8" cy="886.1" rx="2.57" ry="1.79"/><ellipse cx="389.9" cy="884.6" rx="2.68" ry="1.86"/><ellipse cx="383.2" cy="882.5" rx="2.78" ry="1.94"/><ellipse cx="376.9" cy="880.0" rx="2.88" ry="2.01"/><ellipse cx="371.1" cy="877.0" rx="2.98" ry="2.07"/><ellipse cx="365.9" cy="873.7" rx="3.07" ry="2.13"/><ellipse cx="361.4" cy="870.0" rx="3.10" ry="2.16"/><ellipse cx="357.6" cy="866.0" rx="3.10" ry="2.16"/><ellipse cx="354.6" cy="861.9" rx="3.10" ry="2.16"/><ellipse cx="352.5" cy="857.7" rx="3.10" ry="2.16"/><ellipse cx="351.1" cy="853.4" rx="3.10" ry="2.16"/><ellipse cx="350.5" cy="849.1" rx="2.98" ry="2.07"/><ellipse cx="350.6" cy="844.9" rx="2.86" ry="1.99"/><ellipse cx="351.3" cy="840.9" rx="2.74" ry="1.91"/><ellipse cx="352.5" cy="837.0" rx="2.63" ry="1.83"/><ellipse cx="354.3" cy="833.3" rx="2.53" ry="1.76"/><ellipse cx="356.4" cy="829.8" rx="2.44" ry="1.70"/><ellipse cx="358.9" cy="826.4" rx="2.35" ry="1.64"/><ellipse cx="361.7" cy="823.2" rx="2.27" ry="1.58"/><ellipse cx="364.8" cy="820.2" rx="2.19" ry="1.52"/><ellipse cx="368.2" cy="817.3" rx="2.11" ry="1.47"/><ellipse cx="371.7" cy="814.6" rx="2.04" ry="1.42"/><ellipse cx="375.4" cy="812.0" rx="1.97" ry="1.37"/><ellipse cx="445.8" cy="876.6" rx="1.59" ry="1.16" fill="#000"/><ellipse cx="441.9" cy="878.1" rx="1.71" ry="1.25" fill="#000"/><ellipse cx="437.5" cy="879.5" rx="1.84" ry="1.35" fill="#000"/><ellipse cx="432.6" cy="880.7" rx="1.98" ry="1.45" fill="#000"/><ellipse cx="427.1" cy="881.6" rx="2.12" ry="1.55" fill="#000"/><ellipse cx="421.2" cy="882.2" rx="2.00" ry="1.39"/><ellipse cx="414.9" cy="882.3" rx="2.12" ry="1.48"/><ellipse cx="408.3" cy="882.0" rx="2.25" ry="1.56"/><ellipse cx="401.6" cy="881.1" rx="2.37" ry="1.65"/><ellipse cx="395.0" cy="879.7" rx="2.48" ry="1.73"/><ellipse cx="388.6" cy="877.8" rx="2.60" ry="1.81"/><ellipse cx="382.6" cy="875.4" rx="2.70" ry="1.88"/><ellipse cx="377.1" cy="872.5" rx="2.81" ry="1.95"/><ellipse cx="372.3" cy="869.3" rx="2.90" ry="2.02"/><ellipse cx="368.1" cy="865.7" rx="3.00" ry="2.09"/><ellipse cx="364.7" cy="861.8" rx="3.09" ry="2.15"/><ellipse cx="362.1" cy="857.6" rx="3.10" ry="2.16"/><ellipse cx="360.4" cy="853.3" rx="3.10" ry="2.16"/><ellipse cx="359.5" cy="849.0" rx="3.10" ry="2.16"/><ellipse cx="359.4" cy="844.7" rx="3.10" ry="2.16"/><ellipse cx="360.2" cy="840.3" rx="3.10" ry="2.16"/><ellipse cx="361.6" cy="836.1" rx="3.07" ry="2.14"/><ellipse cx="363.8" cy="831.9" rx="2.95" ry="2.05"/><ellipse cx="366.5" cy="828.0" rx="2.83" ry="1.97"/><ellipse cx="369.7" cy="824.3" rx="2.73" ry="1.90"/><ellipse cx="373.3" cy="820.8" rx="2.63" ry="1.83"/><ellipse cx="377.2" cy="817.6" rx="2.53" ry="1.76"/><ellipse cx="381.4" cy="814.5" rx="2.45" ry="1.70"/><ellipse cx="385.9" cy="811.7" rx="2.36" ry="1.64"/><ellipse cx="390.5" cy="809.1" rx="2.28" ry="1.59"/><ellipse cx="395.4" cy="806.6" rx="2.21" ry="1.53"/><ellipse cx="400.3" cy="804.4" rx="2.13" ry="1.48"/><ellipse cx="405.3" cy="802.3" rx="2.06" ry="1.44"/><ellipse cx="410.5" cy="800.4" rx="2.00" ry="1.39"/><ellipse cx="428.5" cy="876.8" rx="1.95" ry="1.42" fill="#000"/><ellipse cx="422.9" cy="877.1" rx="2.09" ry="1.53" fill="#000"/><ellipse cx="416.9" cy="877.1" rx="1.97" ry="1.37"/><ellipse cx="410.7" cy="876.7" rx="2.10" ry="1.46"/><ellipse cx="404.4" cy="875.7" rx="2.22" ry="1.54"/><ellipse cx="398.2" cy="874.3" rx="2.34" ry="1.63"/><ellipse cx="392.3" cy="872.3" rx="2.46" ry="1.71"/><ellipse cx="386.8" cy="869.8" rx="2.57" ry="1.79"/><ellipse cx="381.9" cy="866.9" rx="2.68" ry="1.86"/><ellipse cx="377.7" cy="863.6" rx="2.78" ry="1.94"/><ellipse cx="374.2" cy="859.9" rx="2.88" ry="2.01"/><ellipse cx="371.5" cy="856.0" rx="2.98" ry="2.07"/><ellipse cx="369.8" cy="851.9" rx="3.07" ry="2.13"/><ellipse cx="368.9" cy="847.5" rx="3.10" ry="2.16"/><ellipse cx="368.9" cy="843.2" rx="3.10" ry="2.16"/><ellipse cx="369.8" cy="838.8" rx="3.10" ry="2.16"/><ellipse cx="371.5" cy="834.6" rx="3.10" ry="2.16"/><ellipse cx="374.0" cy="830.4" rx="3.02" ry="2.10"/><ellipse cx="377.1" cy="826.5" rx="2.89" ry="2.01"/><ellipse cx="380.7" cy="822.8" rx="2.77" ry="1.92"/><ellipse cx="384.7" cy="819.4" rx="2.65" ry="1.85"/><ellipse cx="389.1" cy="816.2" rx="2.55" ry="1.77"/><ellipse cx="393.7" cy="813.3" rx="2.45" ry="1.70"/><ellipse cx="398.5" cy="810.7" rx="2.35" ry="1.64"/><ellipse cx="403.5" cy="808.2" rx="2.26" ry="1.57"/><ellipse cx="408.6" cy="806.0" rx="2.18" ry="1.52"/><ellipse cx="413.9" cy="803.9" rx="2.10" ry="1.46"/><ellipse cx="419.2" cy="802.1" rx="2.02" ry="1.41"/><ellipse cx="439.3" cy="871.8" rx="1.59" ry="1.16" fill="#000"/><ellipse cx="434.4" cy="872.3" rx="1.71" ry="1.25" fill="#000"/><ellipse cx="429.2" cy="872.6" rx="1.84" ry="1.35" fill="#000"/><ellipse cx="423.8" cy="872.6" rx="1.98" ry="1.45" fill="#000"/><ellipse cx="418.1" cy="872.3" rx="2.12" ry="1.55" fill="#000"/><ellipse cx="412.3" cy="871.5" rx="2.00" ry="1.39"/><ellipse cx="406.4" cy="870.3" rx="2.12" ry="1.48"/><ellipse cx="400.8" cy="868.5" rx="2.25" ry="1.56"/><ellipse cx="395.5" cy="866.3" rx="2.37" ry="1.65"/><ellipse cx="390.7" cy="863.6" rx="2.48" ry="1.73"/><ellipse cx="386.7" cy="860.5" rx="2.60" ry="1.81"/><ellipse cx="383.3" cy="857.0" rx="2.70" ry="1.88"/><ellipse cx="380.9" cy="853.3" rx="2.81" ry="1.95"/><ellipse cx="379.3" cy="849.3" rx="2.90" ry="2.02"/><ellipse cx="378.7" cy="845.1" rx="3.00" ry="2.09"/><ellipse cx="379.0" cy="840.9" rx="3.09" ry="2.15"/><ellipse cx="380.3" cy="836.6" rx="3.10" ry="2.16"/><ellipse cx="382.4" cy="832.3" rx="3.10" ry="2.16"/><ellipse cx="385.4" cy="828.2" rx="3.10" ry="2.16"/><ellipse cx="389.1" cy="824.3" rx="3.10" ry="2.16"/><ellipse cx="393.5" cy="820.6" rx="3.10" ry="2.16"/><ellipse cx="398.6" cy="817.0" rx="3.05" ry="2.12"/><ellipse cx="404.1" cy="813.8" rx="2.92" ry="2.03"/><ellipse cx="409.9" cy="810.9" rx="2.81" ry="1.96"/><ellipse cx="415.9" cy="808.2" rx="2.71" ry="1.88"/><ellipse cx="422.1" cy="805.9" rx="2.61" ry="1.81"/><ellipse cx="428.4" cy="803.8" rx="2.51" ry="1.75"/><ellipse cx="434.8" cy="802.0" rx="2.42" ry="1.69"/><ellipse cx="441.2" cy="800.4" rx="2.34" ry="1.63"/><ellipse cx="447.7" cy="799.1" rx="2.26" ry="1.57"/><ellipse cx="454.1" cy="797.9" rx="2.18" ry="1.52"/><ellipse cx="460.4" cy="797.0" rx="2.11" ry="1.47"/><ellipse cx="466.7" cy="796.2" rx="2.04" ry="1.42"/><ellipse cx="472.9" cy="795.6" rx="1.98" ry="1.38"/><ellipse cx="423.5" cy="868.2" rx="1.95" ry="1.42" fill="#000"/><ellipse cx="418.1" cy="867.3" rx="2.09" ry="1.53" fill="#000"/><ellipse cx="412.7" cy="866.0" rx="1.97" ry="1.37"/><ellipse cx="407.5" cy="864.3" rx="2.10" ry="1.46"/><ellipse cx="402.7" cy="862.1" rx="2.22" ry="1.54"/><ellipse cx="398.4" cy="859.4" rx="2.34" ry="1.63"/><ellipse cx="394.8" cy="856.3" rx="2.46" ry="1.71"/><ellipse cx="392.0" cy="852.9" rx="2.57" ry="1.79"/><ellipse cx="390.1" cy="849.2" rx="2.68" ry="1.86"/><ellipse cx="389.1" cy="845.3" rx="2.78" ry="1.94"/><ellipse cx="389.2" cy="841.3" rx="2.88" ry="2.01"/><ellipse cx="390.2" cy="837.2" rx="2.98" ry="2.07"/><ellipse cx="392.2" cy="833.0" rx="3.07" ry="2.13"/><ellipse cx="395.1" cy="829.0" rx="3.10" ry="2.16"/><ellipse cx="398.9" cy="825.0" rx="3.10" ry="2.16"/><ellipse cx="403.5" cy="821.3" rx="3.10" ry="2.16"/><ellipse cx="408.7" cy="817.9" rx="3.10" ry="2.16"/><ellipse cx="414.6" cy="814.6" rx="3.10" ry="2.16"/><ellipse cx="420.9" cy="811.7" rx="3.06" ry="2.13"/><ellipse cx="427.7" cy="809.1" rx="2.94" ry="2.04"/><ellipse cx="434.6" cy="806.8" rx="2.82" ry="1.96"/><ellipse cx="441.6" cy="804.8" rx="2.72" ry="1.89"/><ellipse cx="448.7" cy="803.2" rx="2.62" ry="1.82"/><ellipse cx="455.7" cy="801.8" rx="2.52" ry="1.75"/><ellipse cx="462.8" cy="800.7" rx="2.43" ry="1.69"/><ellipse cx="469.7" cy="799.8" rx="2.35" ry="1.63"/><ellipse cx="476.6" cy="799.2" rx="2.27" ry="1.58"/><ellipse cx="483.3" cy="798.7" rx="2.19" ry="1.52"/><ellipse cx="489.9" cy="798.4" rx="2.12" ry="1.47"/><ellipse cx="496.4" cy="798.3" rx="2.05" ry="1.42"/><ellipse cx="502.8" cy="798.4" rx="1.98" ry="1.38"/><ellipse cx="437.5" cy="866.1" rx="1.59" ry="1.16" fill="#000"/><ellipse cx="432.7" cy="865.5" rx="1.71" ry="1.25" fill="#000"/><ellipse cx="427.8" cy="864.6" rx="1.84" ry="1.35" fill="#000"/><ellipse cx="422.8" cy="863.5" rx="1.98" ry="1.45" fill="#000"/><ellipse cx="418.0" cy="861.9" rx="2.12" ry="1.55" fill="#000"/><ellipse cx="413.4" cy="860.0" rx="2.00" ry="1.39"/><ellipse cx="409.2" cy="857.6" rx="2.12" ry="1.48"/><ellipse cx="405.7" cy="854.8" rx="2.25" ry="1.56"/><ellipse cx="402.8" cy="851.6" rx="2.37" ry="1.65"/><ellipse cx="400.9" cy="848.2" rx="2.48" ry="1.73"/><ellipse cx="399.9" cy="844.5" rx="2.60" ry="1.81"/><ellipse cx="399.9" cy="840.6" rx="2.70" ry="1.88"/><ellipse cx="401.0" cy="836.7" rx="2.81" ry="1.95"/><ellipse cx="403.0" cy="832.8" rx="2.90" ry="2.02"/><ellipse cx="406.1" cy="828.9" rx="3.00" ry="2.09"/><ellipse cx="410.0" cy="825.1" rx="3.09" ry="2.15"/><ellipse cx="414.9" cy="821.5" rx="3.10" ry="2.16"/><ellipse cx="420.5" cy="818.2" rx="3.10" ry="2.16"/><ellipse cx="426.8" cy="815.2" rx="3.10" ry="2.16"/><ellipse cx="433.5" cy="812.4" rx="3.10" ry="2.16"/><ellipse cx="440.7" cy="810.0" rx="3.10" ry="2.16"/><ellipse cx="448.3" cy="807.9" rx="3.10" ry="2.16"/><ellipse cx="456.2" cy="806.2" rx="3.06" ry="2.13"/><ellipse cx="464.3" cy="804.8" rx="2.94" ry="2.05"/><ellipse cx="472.3" cy="803.7" rx="2.84" ry="1.97"/><ellipse cx="480.2" cy="802.9" rx="2.74" ry="1.90"/><ellipse cx="488.0" cy="802.4" rx="2.64" ry="1.84"/><ellipse cx="495.6" cy="802.2" rx="2.55" ry="1.78"/><ellipse cx="503.0" cy="802.2" rx="2.47" ry="1.72"/><ellipse cx="510.2" cy="802.5" rx="2.39" ry="1.66"/><ellipse cx="517.3" cy="802.9" rx="2.31" ry="1.61"/><ellipse cx="524.0" cy="803.5" rx="2.24" ry="1.56"/><ellipse cx="530.6" cy="804.3" rx="2.17" ry="1.51"/><ellipse cx="537.0" cy="805.2" rx="2.10" ry="1.46"/><ellipse cx="543.1" cy="806.2" rx="2.04" ry="1.42"/><ellipse cx="548.9" cy="807.4" rx="1.98" ry="1.37"/><ellipse cx="426.4" cy="859.4" rx="1.95" ry="1.42" fill="#000"/><ellipse cx="422.3" cy="857.5" rx="2.09" ry="1.53" fill="#000"/><ellipse cx="418.6" cy="855.1" rx="1.97" ry="1.37"/><ellipse cx="415.4" cy="852.4" rx="2.10" ry="1.46"/><ellipse cx="413.0" cy="849.4" rx="2.22" ry="1.54"/><ellipse cx="411.4" cy="846.1" rx="2.34" ry="1.63"/><ellipse cx="410.8" cy="842.5" rx="2.46" ry="1.71"/><ellipse cx="411.3" cy="838.8" rx="2.57" ry="1.79"/><ellipse cx="412.8" cy="835.1" rx="2.68" ry="1.86"/><ellipse cx="415.3" cy="831.3" rx="2.78" ry="1.94"/><ellipse cx="418.8" cy="827.7" rx="2.88" ry="2.01"/><ellipse cx="423.3" cy="824.2" rx="2.98" ry="2.07"/><ellipse cx="428.7" cy="821.0" rx="3.07" ry="2.13"/><ellipse cx="434.9" cy="817.9" rx="3.10" ry="2.16"/><ellipse cx="441.7" cy="815.2" rx="3.10" ry="2.16"/><ellipse cx="449.1" cy="812.9" rx="3.10" ry="2.16"/><ellipse cx="456.8" cy="810.9" rx="3.10" ry="2.16"/><ellipse cx="464.8" cy="809.2" rx="3.10" ry="2.16"/><ellipse cx="473.1" cy="808.0" rx="3.10" ry="2.16"/><ellipse cx="481.6" cy="807.1" rx="3.10" ry="2.16"/><ellipse cx="490.2" cy="806.5" rx="3.00" ry="2.09"/><ellipse cx="498.6" cy="806.3" rx="2.89" ry="2.01"/><ellipse cx="506.7" cy="806.3" rx="2.79" ry="1.94"/><ellipse cx="514.6" cy="806.7" rx="2.69" ry="1.87"/><ellipse cx="522.3" cy="807.3" rx="2.60" ry="1.81"/><ellipse cx="529.6" cy="808.1" rx="2.52" ry="1.75"/><ellipse cx="536.7" cy="809.1" rx="2.44" ry="1.69"/><ellipse cx="543.4" cy="810.3" rx="2.36" ry="1.64"/><ellipse cx="549.9" cy="811.6" rx="2.28" ry="1.59"/><ellipse cx="556.1" cy="813.1" rx="2.21" ry="1.54"/><ellipse cx="562.0" cy="814.7" rx="2.15" ry="1.49"/><ellipse cx="567.6" cy="816.4" rx="2.08" ry="1.45"/><ellipse cx="572.9" cy="818.2" rx="2.02" ry="1.40"/><ellipse cx="577.9" cy="820.1" rx="1.96" ry="1.36"/><ellipse cx="440.8" cy="860.6" rx="1.59" ry="1.16" fill="#000"/><ellipse cx="437.0" cy="859.0" rx="1.71" ry="1.25" fill="#000"/><ellipse cx="433.3" cy="857.1" rx="1.84" ry="1.35" fill="#000"/><ellipse cx="429.9" cy="855.0" rx="1.98" ry="1.45" fill="#000"/><ellipse cx="426.9" cy="852.6" rx="2.12" ry="1.55" fill="#000"/><ellipse cx="424.5" cy="849.8" rx="2.00" ry="1.39"/><ellipse cx="422.8" cy="846.8" rx="2.12" ry="1.48"/><ellipse cx="422.0" cy="843.5" rx="2.25" ry="1.56"/><ellipse cx="422.2" cy="840.0" rx="2.37" ry="1.65"/><ellipse cx="423.4" cy="836.5" rx="2.48" ry="1.73"/><ellipse cx="425.7" cy="832.9" rx="2.60" ry="1.81"/><ellipse cx="429.1" cy="829.5" rx="2.70" ry="1.88"/><ellipse cx="433.4" cy="826.2" rx="2.81" ry="1.95"/><ellipse cx="438.7" cy="823.1" rx="2.90" ry="2.02"/><ellipse cx="444.8" cy="820.2" rx="3.00" ry="2.09"/><ellipse cx="451.7" cy="817.7" rx="3.09" ry="2.15"/><ellipse cx="459.2" cy="815.5" rx="3.10" ry="2.16"/><ellipse cx="467.1" cy="813.7" rx="3.10" ry="2.16"/><ellipse cx="475.4" cy="812.3" rx="3.10" ry="2.16"/><ellipse cx="483.8" cy="811.4" rx="3.10" ry="2.16"/><ellipse cx="492.4" cy="810.7" rx="3.10" ry="2.16"/><ellipse cx="501.1" cy="810.5" rx="3.02" ry="2.10"/><ellipse cx="509.6" cy="810.6" rx="2.90" ry="2.02"/><ellipse cx="517.7" cy="811.1" rx="2.79" ry="1.94"/><ellipse cx="525.5" cy="811.8" rx="2.68" ry="1.86"/><ellipse cx="533.0" cy="812.7" rx="2.58" ry="1.79"/><ellipse cx="540.1" cy="813.9" rx="2.49" ry="1.73"/><ellipse cx="546.9" cy="815.2" rx="2.40" ry="1.67"/><ellipse cx="553.3" cy="816.7" rx="2.31" ry="1.61"/><ellipse cx="559.4" cy="818.4" rx="2.23" ry="1.55"/><ellipse cx="565.2" cy="820.1" rx="2.16" ry="1.50"/><ellipse cx="570.6" cy="822.0" rx="2.09" ry="1.45"/><ellipse cx="575.7" cy="823.9" rx="2.02" ry="1.40"/><ellipse cx="436.6" cy="852.2" rx="1.95" ry="1.42" fill="#000"/><ellipse cx="434.6" cy="849.5" rx="2.09" ry="1.53" fill="#000"/><ellipse cx="433.3" cy="846.6" rx="1.97" ry="1.37"/><ellipse cx="432.8" cy="843.5" rx="2.10" ry="1.46"/><ellipse cx="433.2" cy="840.2" rx="2.22" ry="1.54"/><ellipse cx="434.7" cy="836.9" rx="2.34" ry="1.63"/><ellipse cx="437.3" cy="833.5" rx="2.46" ry="1.71"/><ellipse cx="440.9" cy="830.3" rx="2.57" ry="1.79"/><ellipse cx="445.5" cy="827.3" rx="2.68" ry="1.86"/><ellipse cx="451.0" cy="824.4" rx="2.78" ry="1.94"/><ellipse cx="457.3" cy="821.9" rx="2.88" ry="2.01"/><ellipse cx="464.4" cy="819.8" rx="2.98" ry="2.07"/><ellipse cx="472.1" cy="818.0" rx="3.07" ry="2.13"/><ellipse cx="480.3" cy="816.6" rx="3.10" ry="2.16"/><ellipse cx="488.8" cy="815.6" rx="3.10" ry="2.16"/><ellipse cx="497.5" cy="815.1" rx="3.10" ry="2.16"/><ellipse cx="506.2" cy="815.0" rx="3.10" ry="2.16"/><ellipse cx="514.8" cy="815.3" rx="3.10" ry="2.16"/><ellipse cx="523.4" cy="815.9" rx="3.08" ry="2.14"/><ellipse cx="531.8" cy="816.9" rx="2.96" ry="2.06"/><ellipse cx="539.7" cy="818.2" rx="2.84" ry="1.98"/><ellipse cx="547.1" cy="819.8" rx="2.73" ry="1.90"/><ellipse cx="554.2" cy="821.5" rx="2.63" ry="1.83"/><ellipse cx="560.7" cy="823.4" rx="2.54" ry="1.77"/><ellipse cx="566.9" cy="825.5" rx="2.45" ry="1.70"/><ellipse cx="572.6" cy="827.7" rx="2.36" ry="1.64"/><ellipse cx="577.9" cy="830.0" rx="2.28" ry="1.59"/><ellipse cx="582.9" cy="832.3" rx="2.21" ry="1.54"/><ellipse cx="587.4" cy="834.8" rx="2.13" ry="1.48"/><ellipse cx="591.6" cy="837.3" rx="2.06" ry="1.44"/><ellipse cx="595.5" cy="839.8" rx="2.00" ry="1.39"/><ellipse cx="448.6" cy="856.3" rx="1.59" ry="1.16" fill="#000"/><ellipse cx="446.6" cy="854.1" rx="1.71" ry="1.25" fill="#000"/><ellipse cx="444.9" cy="851.6" rx="1.84" ry="1.35" fill="#000"/><ellipse cx="443.6" cy="848.9" rx="1.98" ry="1.45" fill="#000"/><ellipse cx="443.0" cy="846.1" rx="2.12" ry="1.55" fill="#000"/><ellipse cx="443.2" cy="843.1" rx="2.00" ry="1.39"/><ellipse cx="444.4" cy="840.0" rx="2.12" ry="1.48"/><ellipse cx="446.5" cy="836.8" rx="2.25" ry="1.56"/><ellipse cx="449.7" cy="833.7" rx="2.37" ry="1.65"/><ellipse cx="453.9" cy="830.8" rx="2.48" ry="1.73"/><ellipse cx="459.0" cy="828.1" rx="2.60" ry="1.81"/><ellipse cx="465.0" cy="825.8" rx="2.70" ry="1.88"/><ellipse cx="471.8" cy="823.7" rx="2.81" ry="1.95"/><ellipse cx="479.3" cy="822.1" rx="2.90" ry="2.02"/><ellipse cx="487.2" cy="820.8" rx="3.00" ry="2.09"/><ellipse cx="495.6" cy="820.0" rx="3.09" ry="2.15"/><ellipse cx="504.3" cy="819.7" rx="3.10" ry="2.16"/><ellipse cx="513.0" cy="819.8" rx="3.10" ry="2.16"/><ellipse cx="521.6" cy="820.4" rx="3.10" ry="2.16"/><ellipse cx="530.1" cy="821.3" rx="3.10" ry="2.16"/><ellipse cx="538.4" cy="822.6" rx="3.10" ry="2.16"/><ellipse cx="546.4" cy="824.3" rx="3.02" ry="2.10"/><ellipse cx="553.9" cy="826.2" rx="2.90" ry="2.02"/><ellipse cx="560.9" cy="828.4" rx="2.78" ry="1.94"/><ellipse cx="567.3" cy="830.7" rx="2.68" ry="1.86"/><ellipse cx="573.2" cy="833.2" rx="2.58" ry="1.79"/><ellipse cx="578.6" cy="835.8" rx="2.49" ry="1.73"/><ellipse cx="583.5" cy="838.5" rx="2.40" ry="1.67"/><ellipse cx="588.0" cy="841.2" rx="2.31" ry="1.61"/><ellipse cx="592.1" cy="844.0" rx="2.23" ry="1.55"/><ellipse cx="595.7" cy="846.8" rx="2.16" ry="1.50"/><ellipse cx="599.0" cy="849.7" rx="2.09" ry="1.45"/><ellipse cx="601.9" cy="852.6" rx="2.02" ry="1.40"/><ellipse cx="452.1" cy="847.8" rx="1.95" ry="1.42" fill="#000"/><ellipse cx="452.6" cy="845.0" rx="2.09" ry="1.53" fill="#000"/><ellipse cx="454.0" cy="842.1" rx="1.97" ry="1.37"/><ellipse cx="456.2" cy="839.2" rx="2.10" ry="1.46"/><ellipse cx="459.5" cy="836.3" rx="2.22" ry="1.54"/><ellipse cx="463.7" cy="833.6" rx="2.34" ry="1.63"/><ellipse cx="468.9" cy="831.2" rx="2.46" ry="1.71"/><ellipse cx="475.0" cy="829.1" rx="2.57" ry="1.79"/><ellipse cx="481.8" cy="827.3" rx="2.68" ry="1.86"/><ellipse cx="489.2" cy="826.0" rx="2.78" ry="1.94"/><ellipse cx="497.0" cy="825.1" rx="2.88" ry="2.01"/><ellipse cx="505.3" cy="824.7" rx="2.98" ry="2.07"/><ellipse cx="513.8" cy="824.7" rx="3.07" ry="2.13"/><ellipse cx="522.4" cy="825.3" rx="3.10" ry="2.16"/><ellipse cx="530.9" cy="826.2" rx="3.10" ry="2.16"/><ellipse cx="539.1" cy="827.6" rx="3.10" ry="2.16"/><ellipse cx="547.0" cy="829.4" rx="3.10" ry="2.16"/><ellipse cx="554.6" cy="831.5" rx="3.10" ry="2.16"/><ellipse cx="561.8" cy="834.0" rx="3.10" ry="2.16"/><ellipse cx="568.5" cy="836.7" rx="3.07" ry="2.13"/><ellipse cx="574.6" cy="839.7" rx="2.95" ry="2.05"/><ellipse cx="580.2" cy="842.8" rx="2.84" ry="1.98"/><ellipse cx="585.1" cy="846.0" rx="2.74" ry="1.91"/><ellipse cx="589.4" cy="849.3" rx="2.65" ry="1.84"/><ellipse cx="593.2" cy="852.6" rx="2.56" ry="1.78"/><ellipse cx="596.5" cy="855.9" rx="2.47" ry="1.72"/><ellipse cx="599.3" cy="859.3" rx="2.39" ry="1.66"/><ellipse cx="601.7" cy="862.6" rx="2.31" ry="1.61"/><ellipse cx="603.7" cy="865.9" rx="2.24" ry="1.56"/><ellipse cx="605.2" cy="869.2" rx="2.17" ry="1.51"/><ellipse cx="606.4" cy="872.4" rx="2.10" ry="1.46"/><ellipse cx="607.3" cy="875.6" rx="2.04" ry="1.42"/><ellipse cx="607.9" cy="878.8" rx="1.98" ry="1.37"/><ellipse cx="459.4" cy="854.2" rx="1.59" ry="1.16" fill="#000"/><ellipse cx="459.5" cy="851.7" rx="1.71" ry="1.25" fill="#000"/><ellipse cx="460.1" cy="849.1" rx="1.84" ry="1.35" fill="#000"/><ellipse cx="461.3" cy="846.4" rx="1.98" ry="1.45" fill="#000"/><ellipse cx="463.2" cy="843.7" rx="2.12" ry="1.55" fill="#000"/><ellipse cx="466.0" cy="841.1" rx="2.00" ry="1.39"/><ellipse cx="469.7" cy="838.5" rx="2.12" ry="1.48"/><ellipse cx="474.4" cy="836.1" rx="2.25" ry="1.56"/><ellipse cx="479.9" cy="834.1" rx="2.37" ry="1.65"/><ellipse cx="486.2" cy="832.3" rx="2.48" ry="1.73"/><ellipse cx="493.2" cy="831.0" rx="2.60" ry="1.81"/><ellipse cx="500.7" cy="830.2" rx="2.70" ry="1.88"/><ellipse cx="508.6" cy="829.8" rx="2.81" ry="1.95"/><ellipse cx="516.7" cy="830.0" rx="2.90" ry="2.02"/><ellipse cx="524.9" cy="830.6" rx="3.00" ry="2.09"/><ellipse cx="533.2" cy="831.7" rx="3.09" ry="2.15"/><ellipse cx="541.3" cy="833.3" rx="3.10" ry="2.16"/><ellipse cx="549.0" cy="835.2" rx="3.10" ry="2.16"/><ellipse cx="556.3" cy="837.6" rx="3.10" ry="2.16"/><ellipse cx="563.2" cy="840.3" rx="3.10" ry="2.16"/><ellipse cx="569.5" cy="843.3" rx="3.10" ry="2.16"/><ellipse cx="575.2" cy="846.5" rx="3.05" ry="2.12"/><ellipse cx="580.4" cy="849.9" rx="2.93" ry="2.04"/><ellipse cx="584.8" cy="853.4" rx="2.82" ry="1.96"/><ellipse cx="588.6" cy="857.0" rx="2.71" ry="1.89"/><ellipse cx="591.7" cy="860.5" rx="2.61" ry="1.82"/><ellipse cx="594.4" cy="864.1" rx="2.52" ry="1.75"/><ellipse cx="596.5" cy="867.6" rx="2.43" ry="1.69"/><ellipse cx="598.2" cy="871.1" rx="2.35" ry="1.63"/><ellipse cx="599.4" cy="874.5" rx="2.27" ry="1.58"/><ellipse cx="600.2" cy="877.9" rx="2.19" ry="1.52"/><ellipse cx="600.6" cy="881.2" rx="2.12" ry="1.47"/><ellipse cx="600.7" cy="884.4" rx="2.05" ry="1.43"/><ellipse cx="600.5" cy="887.6" rx="1.98" ry="1.38"/><ellipse cx="469.9" cy="847.3" rx="1.95" ry="1.42" fill="#000"/><ellipse cx="472.8" cy="844.8" rx="2.09" ry="1.53" fill="#000"/><ellipse cx="476.5" cy="842.5" rx="1.97" ry="1.37"/><ellipse cx="481.1" cy="840.4" rx="2.10" ry="1.46"/><ellipse cx="486.5" cy="838.5" rx="2.22" ry="1.54"/><ellipse cx="492.7" cy="837.0" rx="2.34" ry="1.63"/><ellipse cx="499.5" cy="835.9" rx="2.46" ry="1.71"/><ellipse cx="506.8" cy="835.3" rx="2.57" ry="1.79"/><ellipse cx="514.4" cy="835.2" rx="2.68" ry="1.86"/><ellipse cx="522.2" cy="835.6" rx="2.78" ry="1.94"/><ellipse cx="530.1" cy="836.5" rx="2.88" ry="2.01"/><ellipse cx="537.9" cy="838.0" rx="2.98" ry="2.07"/><ellipse cx="545.5" cy="839.8" rx="3.07" ry="2.13"/><ellipse cx="552.8" cy="842.2" rx="3.10" ry="2.16"/><ellipse cx="559.6" cy="844.9" rx="3.10" ry="2.16"/><ellipse cx="565.8" cy="848.0" rx="3.10" ry="2.16"/><ellipse cx="571.4" cy="851.3" rx="3.10" ry="2.16"/><ellipse cx="576.3" cy="854.8" rx="2.96" ry="2.06"/><ellipse cx="580.5" cy="858.5" rx="2.83" ry="1.97"/><ellipse cx="584.0" cy="862.1" rx="2.71" ry="1.88"/><ellipse cx="586.8" cy="865.7" rx="2.59" ry="1.80"/><ellipse cx="589.0" cy="869.3" rx="2.49" ry="1.73"/><ellipse cx="590.7" cy="872.9" rx="2.39" ry="1.66"/><ellipse cx="591.9" cy="876.4" rx="2.29" ry="1.60"/><ellipse cx="592.6" cy="879.8" rx="2.20" ry="1.53"/><ellipse cx="593.0" cy="883.1" rx="2.12" ry="1.48"/><ellipse cx="592.9" cy="886.4" rx="2.04" ry="1.42"/><ellipse cx="592.6" cy="889.5" rx="1.97" ry="1.37"/><ellipse cx="470.9" cy="854.6" rx="1.59" ry="1.16" fill="#000"/><ellipse cx="473.2" cy="852.4" rx="1.71" ry="1.25" fill="#000"/><ellipse cx="475.9" cy="850.2" rx="1.84" ry="1.35" fill="#000"/><ellipse cx="479.3" cy="848.0" rx="1.98" ry="1.45" fill="#000"/><ellipse cx="483.4" cy="846.0" rx="2.12" ry="1.55" fill="#000"/><ellipse cx="488.3" cy="844.2" rx="2.00" ry="1.39"/><ellipse cx="493.8" cy="842.7" rx="2.12" ry="1.48"/><ellipse cx="500.1" cy="841.6" rx="2.25" ry="1.56"/><ellipse cx="506.8" cy="840.9" rx="2.37" ry="1.65"/><ellipse cx="514.0" cy="840.7" rx="2.48" ry="1.73"/><ellipse cx="521.4" cy="841.1" rx="2.60" ry="1.81"/><ellipse cx="528.9" cy="841.9" rx="2.70" ry="1.88"/><ellipse cx="536.3" cy="843.3" rx="2.81" ry="1.95"/><ellipse cx="543.6" cy="845.2" rx="2.90" ry="2.02"/><ellipse cx="550.4" cy="847.5" rx="3.00" ry="2.09"/><ellipse cx="556.9" cy="850.3" rx="3.09" ry="2.15"/><ellipse cx="562.8" cy="853.5" rx="3.10" ry="2.16"/><ellipse cx="568.1" cy="857.0" rx="3.10" ry="2.16"/><ellipse cx="572.6" cy="860.7" rx="3.10" ry="2.16"/><ellipse cx="576.5" cy="864.6" rx="3.10" ry="2.16"/><ellipse cx="579.5" cy="868.6" rx="3.10" ry="2.16"/><ellipse cx="581.9" cy="872.8" rx="2.99" ry="2.08"/><ellipse cx="583.6" cy="876.9" rx="2.87" ry="2.00"/><ellipse cx="584.5" cy="881.0" rx="2.76" ry="1.92"/><ellipse cx="584.9" cy="884.9" rx="2.65" ry="1.85"/><ellipse cx="584.7" cy="888.7" rx="2.55" ry="1.78"/><ellipse cx="584.0" cy="892.4" rx="2.46" ry="1.71"/><ellipse cx="583.0" cy="896.0" rx="2.37" ry="1.65"/><ellipse cx="581.5" cy="899.5" rx="2.29" ry="1.59"/><ellipse cx="579.7" cy="902.8" rx="2.21" ry="1.54"/><ellipse cx="577.6" cy="905.9" rx="2.13" ry="1.48"/><ellipse cx="575.2" cy="909.0" rx="2.06" ry="1.43"/><ellipse cx="572.6" cy="911.9" rx="1.99" ry="1.39"/><ellipse cx="486.4" cy="850.6" rx="1.95" ry="1.42" fill="#000"/><ellipse cx="491.1" cy="849.1" rx="2.09" ry="1.53" fill="#000"/><ellipse cx="496.5" cy="847.8" rx="1.97" ry="1.37"/><ellipse cx="502.5" cy="846.8" rx="2.10" ry="1.46"/><ellipse cx="509.0" cy="846.3" rx="2.22" ry="1.54"/><ellipse cx="515.8" cy="846.3" rx="2.34" ry="1.63"/><ellipse cx="522.9" cy="846.8" rx="2.46" ry="1.71"/><ellipse cx="530.0" cy="847.9" rx="2.57" ry="1.79"/><ellipse cx="536.9" cy="849.4" rx="2.68" ry="1.86"/><ellipse cx="543.6" cy="851.5" rx="2.78" ry="1.94"/><ellipse cx="549.9" cy="854.0" rx="2.88" ry="2.01"/><ellipse cx="555.7" cy="857.0" rx="2.98" ry="2.07"/><ellipse cx="560.9" cy="860.3" rx="3.07" ry="2.13"/><ellipse cx="565.4" cy="864.0" rx="3.10" ry="2.16"/><ellipse cx="569.2" cy="868.0" rx="3.10" ry="2.16"/><ellipse cx="572.2" cy="872.1" rx="3.10" ry="2.16"/><ellipse cx="574.3" cy="876.3" rx="3.08" ry="2.14"/><ellipse cx="575.7" cy="880.5" rx="2.94" ry="2.04"/><ellipse cx="576.3" cy="884.7" rx="2.80" ry="1.95"/><ellipse cx="576.3" cy="888.7" rx="2.68" ry="1.87"/><ellipse cx="575.7" cy="892.5" rx="2.57" ry="1.79"/><ellipse cx="574.6" cy="896.2" rx="2.46" ry="1.71"/><ellipse cx="573.0" cy="899.8" rx="2.36" ry="1.64"/><ellipse cx="571.1" cy="903.1" rx="2.27" ry="1.58"/><ellipse cx="568.9" cy="906.4" rx="2.18" ry="1.52"/><ellipse cx="566.3" cy="909.4" rx="2.10" ry="1.46"/><ellipse cx="563.5" cy="912.3" rx="2.02" ry="1.40"/><ellipse cx="481.0" cy="857.4" rx="1.59" ry="1.16" fill="#000"/><ellipse cx="484.9" cy="855.9" rx="1.71" ry="1.25" fill="#000"/><ellipse cx="489.3" cy="854.5" rx="1.84" ry="1.35" fill="#000"/><ellipse cx="494.2" cy="853.3" rx="1.98" ry="1.45" fill="#000"/><ellipse cx="499.7" cy="852.4" rx="2.12" ry="1.55" fill="#000"/><ellipse cx="505.6" cy="851.8" rx="2.00" ry="1.39"/><ellipse cx="511.9" cy="851.7" rx="2.12" ry="1.48"/><ellipse cx="518.5" cy="852.0" rx="2.25" ry="1.56"/><ellipse cx="525.2" cy="852.9" rx="2.37" ry="1.65"/><ellipse cx="531.8" cy="854.3" rx="2.48" ry="1.73"/><ellipse cx="538.2" cy="856.2" rx="2.60" ry="1.81"/><ellipse cx="544.2" cy="858.6" rx="2.70" ry="1.88"/><ellipse cx="549.7" cy="861.5" rx="2.81" ry="1.95"/><ellipse cx="554.5" cy="864.7" rx="2.90" ry="2.02"/><ellipse cx="558.7" cy="868.3" rx="3.00" ry="2.09"/><ellipse cx="562.1" cy="872.2" rx="3.09" ry="2.15"/><ellipse cx="564.7" cy="876.4" rx="3.10" ry="2.16"/><ellipse cx="566.4" cy="880.7" rx="3.10" ry="2.16"/><ellipse cx="567.3" cy="885.0" rx="3.10" ry="2.16"/><ellipse cx="567.4" cy="889.3" rx="3.10" ry="2.16"/><ellipse cx="566.6" cy="893.7" rx="3.10" ry="2.16"/><ellipse cx="565.2" cy="897.9" rx="2.97" ry="2.07"/><ellipse cx="563.1" cy="902.0" rx="2.85" ry="1.98"/><ellipse cx="560.4" cy="905.8" rx="2.74" ry="1.91"/><ellipse cx="557.4" cy="909.4" rx="2.64" ry="1.83"/><ellipse cx="553.9" cy="912.8" rx="2.54" ry="1.76"/><ellipse cx="550.1" cy="916.0" rx="2.44" ry="1.70"/><ellipse cx="546.1" cy="919.0" rx="2.35" ry="1.64"/><ellipse cx="541.8" cy="921.8" rx="2.27" ry="1.58"/><ellipse cx="537.3" cy="924.3" rx="2.19" ry="1.52"/><ellipse cx="532.7" cy="926.7" rx="2.12" ry="1.47"/><ellipse cx="528.0" cy="929.0" rx="2.04" ry="1.42"/><ellipse cx="523.2" cy="931.0" rx="1.97" ry="1.37"/><ellipse cx="498.3" cy="857.2" rx="1.95" ry="1.42" fill="#000"/><ellipse cx="503.9" cy="856.9" rx="2.09" ry="1.53" fill="#000"/><ellipse cx="509.9" cy="856.9" rx="1.97" ry="1.37"/><ellipse cx="516.1" cy="857.3" rx="2.10" ry="1.46"/><ellipse cx="522.4" cy="858.3" rx="2.22" ry="1.54"/><ellipse cx="528.6" cy="859.7" rx="2.34" ry="1.63"/><ellipse cx="534.5" cy="861.7" rx="2.46" ry="1.71"/><ellipse cx="540.0" cy="864.2" rx="2.57" ry="1.79"/><ellipse cx="544.9" cy="867.1" rx="2.68" ry="1.86"/><ellipse cx="549.1" cy="870.4" rx="2.78" ry="1.94"/><ellipse cx="552.6" cy="874.1" rx="2.88" ry="2.01"/><ellipse cx="555.3" cy="878.0" rx="2.98" ry="2.07"/><ellipse cx="557.0" cy="882.1" rx="3.07" ry="2.13"/><ellipse cx="557.9" cy="886.5" rx="3.10" ry="2.16"/><ellipse cx="557.9" cy="890.8" rx="3.10" ry="2.16"/><ellipse cx="557.0" cy="895.2" rx="3.10" ry="2.16"/><ellipse cx="555.3" cy="899.4" rx="3.10" ry="2.16"/><ellipse cx="552.8" cy="903.6" rx="3.03" ry="2.10"/><ellipse cx="549.7" cy="907.5" rx="2.89" ry="2.01"/><ellipse cx="546.1" cy="911.2" rx="2.77" ry="1.93"/><ellipse cx="542.1" cy="914.6" rx="2.66" ry="1.85"/><ellipse cx="537.7" cy="917.8" rx="2.55" ry="1.77"/><ellipse cx="533.1" cy="920.7" rx="2.45" ry="1.70"/><ellipse cx="528.2" cy="923.4" rx="2.36" ry="1.64"/><ellipse cx="523.2" cy="925.8" rx="2.27" ry="1.58"/><ellipse cx="518.1" cy="928.1" rx="2.18" ry="1.52"/><ellipse cx="512.9" cy="930.1" rx="2.10" ry="1.46"/><ellipse cx="507.6" cy="931.9" rx="2.03" ry="1.41"/><ellipse cx="502.2" cy="933.6" rx="1.96" ry="1.36"/><ellipse cx="487.5" cy="862.2" rx="1.59" ry="1.16" fill="#000"/><ellipse cx="492.4" cy="861.7" rx="1.71" ry="1.25" fill="#000"/><ellipse cx="497.6" cy="861.4" rx="1.84" ry="1.35" fill="#000"/><ellipse cx="503.0" cy="861.4" rx="1.98" ry="1.45" fill="#000"/><ellipse cx="508.7" cy="861.7" rx="2.12" ry="1.55" fill="#000"/><ellipse cx="514.5" cy="862.5" rx="2.00" ry="1.39"/><ellipse cx="520.4" cy="863.7" rx="2.12" ry="1.48"/><ellipse cx="526.0" cy="865.5" rx="2.25" ry="1.56"/><ellipse cx="531.3" cy="867.7" rx="2.37" ry="1.65"/><ellipse cx="536.1" cy="870.4" rx="2.48" ry="1.73"/><ellipse cx="540.1" cy="873.5" rx="2.60" ry="1.81"/><ellipse cx="543.5" cy="877.0" rx="2.70" ry="1.88"/><ellipse cx="545.9" cy="880.7" rx="2.81" ry="1.95"/><ellipse cx="547.5" cy="884.7" rx="2.90" ry="2.02"/><ellipse cx="548.1" cy="888.9" rx="3.00" ry="2.09"/><ellipse cx="547.8" cy="893.1" rx="3.09" ry="2.15"/><ellipse cx="546.5" cy="897.4" rx="3.10" ry="2.16"/><ellipse cx="544.4" cy="901.7" rx="3.10" ry="2.16"/><ellipse cx="541.4" cy="905.8" rx="3.10" ry="2.16"/><ellipse cx="537.7" cy="909.7" rx="3.10" ry="2.16"/><ellipse cx="533.3" cy="913.4" rx="3.02" ry="2.10"/><ellipse cx="528.3" cy="916.9" rx="2.89" ry="2.01"/><ellipse cx="523.1" cy="920.0" rx="2.77" ry="1.93"/><ellipse cx="517.5" cy="922.8" rx="2.66" ry="1.85"/><ellipse cx="511.8" cy="925.4" rx="2.55" ry="1.78"/><ellipse cx="505.9" cy="927.7" rx="2.45" ry="1.71"/><ellipse cx="499.9" cy="929.7" rx="2.36" ry="1.64"/><ellipse cx="493.9" cy="931.5" rx="2.27" ry="1.58"/><ellipse cx="487.8" cy="933.0" rx="2.19" ry="1.52"/><ellipse cx="481.8" cy="934.4" rx="2.11" ry="1.47"/><ellipse cx="475.7" cy="935.6" rx="2.03" ry="1.42"/><ellipse cx="469.7" cy="936.6" rx="1.96" ry="1.37"/><ellipse cx="503.3" cy="865.8" rx="1.95" ry="1.42" fill="#000"/><ellipse cx="508.7" cy="866.7" rx="2.09" ry="1.53" fill="#000"/><ellipse cx="514.1" cy="868.0" rx="1.97" ry="1.37"/><ellipse cx="519.3" cy="869.7" rx="2.10" ry="1.46"/><ellipse cx="524.1" cy="871.9" rx="2.22" ry="1.54"/><ellipse cx="528.4" cy="874.6" rx="2.34" ry="1.63"/><ellipse cx="532.0" cy="877.7" rx="2.46" ry="1.71"/><ellipse cx="534.8" cy="881.1" rx="2.57" ry="1.79"/><ellipse cx="536.7" cy="884.8" rx="2.68" ry="1.86"/><ellipse cx="537.7" cy="888.7" rx="2.78" ry="1.94"/><ellipse cx="537.6" cy="892.7" rx="2.88" ry="2.01"/><ellipse cx="536.6" cy="896.8" rx="2.98" ry="2.07"/><ellipse cx="534.6" cy="901.0" rx="3.07" ry="2.13"/><ellipse cx="531.7" cy="905.0" rx="3.10" ry="2.16"/><ellipse cx="527.9" cy="909.0" rx="3.10" ry="2.16"/><ellipse cx="523.3" cy="912.7" rx="3.10" ry="2.16"/><ellipse cx="518.1" cy="916.1" rx="3.10" ry="2.16"/><ellipse cx="512.2" cy="919.4" rx="3.10" ry="2.16"/><ellipse cx="505.9" cy="922.3" rx="3.10" ry="2.16"/><ellipse cx="499.0" cy="925.0" rx="3.10" ry="2.16"/><ellipse cx="491.8" cy="927.3" rx="3.03" ry="2.11"/><ellipse cx="484.4" cy="929.4" rx="2.92" ry="2.03"/><ellipse cx="476.9" cy="931.1" rx="2.82" ry="1.96"/><ellipse cx="469.4" cy="932.5" rx="2.72" ry="1.89"/><ellipse cx="461.9" cy="933.6" rx="2.63" ry="1.83"/><ellipse cx="454.5" cy="934.5" rx="2.54" ry="1.77"/><ellipse cx="447.2" cy="935.1" rx="2.46" ry="1.71"/><ellipse cx="440.0" cy="935.5" rx="2.39" ry="1.66"/><ellipse cx="433.0" cy="935.6" rx="2.31" ry="1.61"/><ellipse cx="426.1" cy="935.6" rx="2.24" ry="1.56"/><ellipse cx="419.4" cy="935.5" rx="2.17" ry="1.51"/><ellipse cx="412.8" cy="935.1" rx="2.11" ry="1.47"/><ellipse cx="406.4" cy="934.6" rx="2.05" ry="1.42"/><ellipse cx="400.2" cy="934.0" rx="1.99" ry="1.38"/></g><rect x="447.5" y="864" width="31" height="6" rx="3" transform="rotate(24 463 867)" fill="#111"/></svg></body></html>
